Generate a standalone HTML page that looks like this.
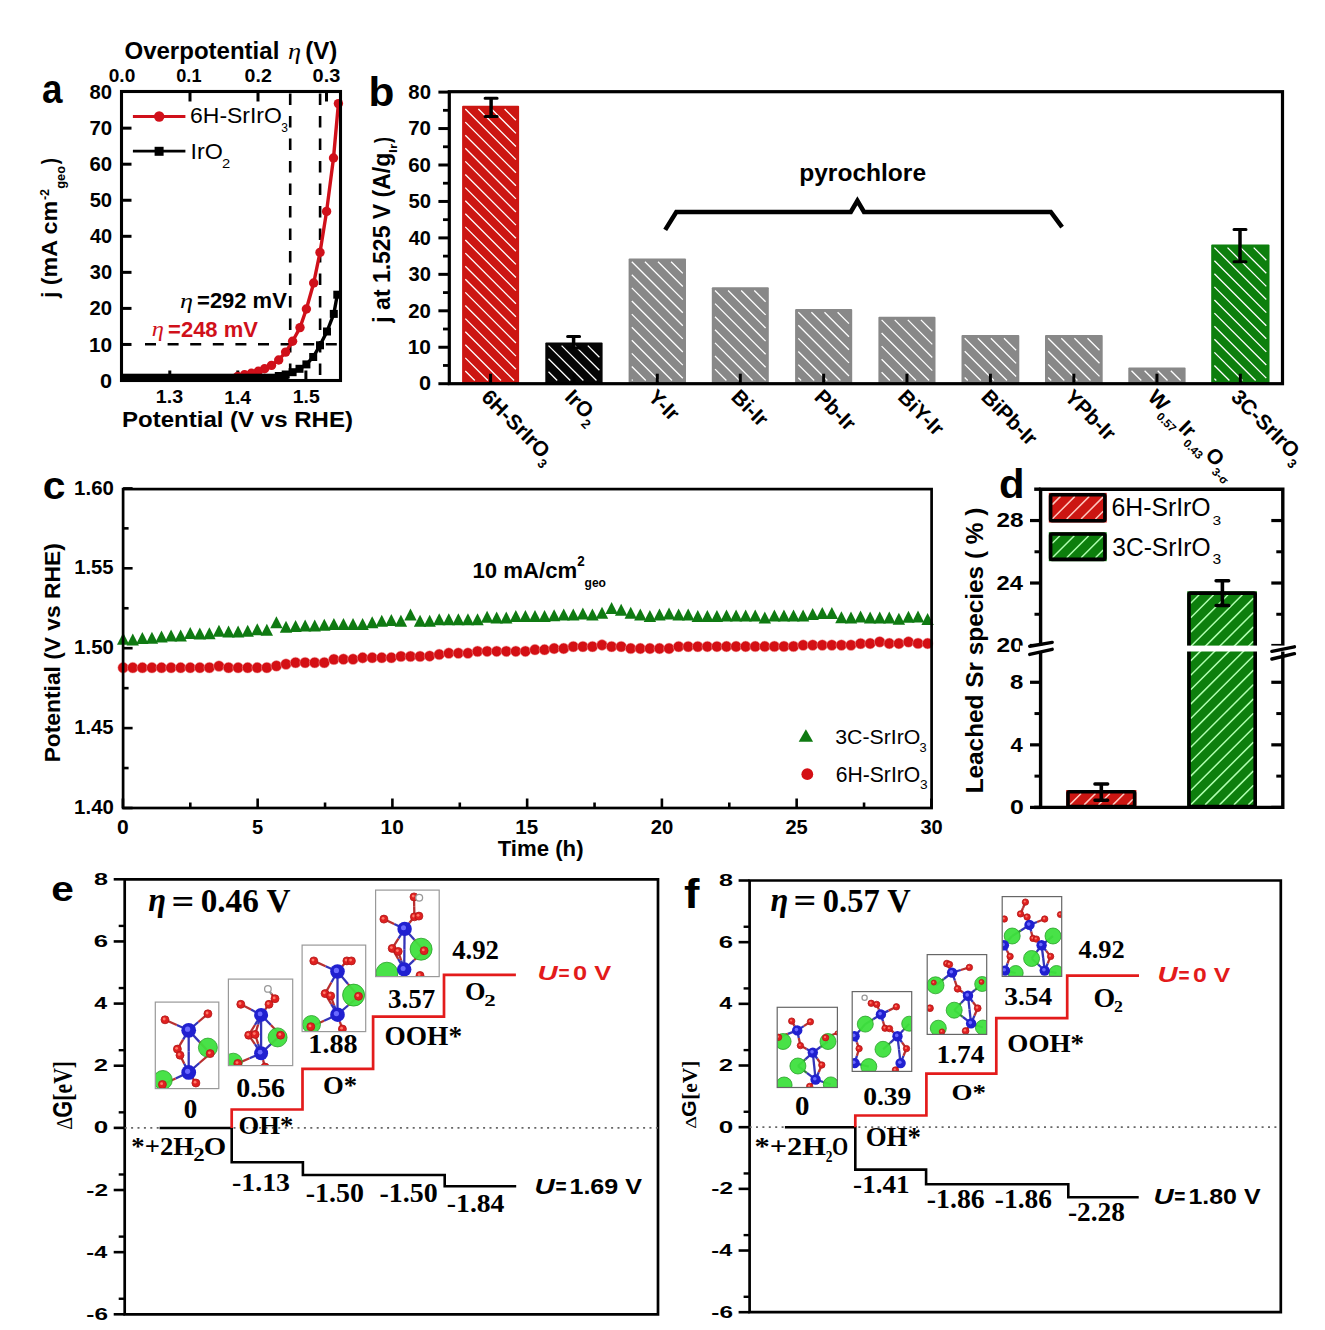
<!DOCTYPE html>
<html><head><meta charset="utf-8"><style>
html,body{margin:0;padding:0;background:#fff;}
svg{display:block;}
</style></head><body>
<svg width="1325" height="1330" viewBox="0 0 1325 1330">
<rect width="1325" height="1330" fill="#fff"/>
<text transform="translate(42.10,102.70) scale(0.9244,1)" font-family='"Liberation Sans", sans-serif' font-size="39.82" font-weight="bold" font-style="normal" fill="#000">a</text>
<text transform="translate(124.44,58.99) scale(1.0379,1)" font-family='"Liberation Sans", sans-serif' font-size="23.16" font-weight="bold" font-style="normal" fill="#000">Overpotential</text>
<text transform="translate(288.07,58.84) scale(1.1789,1)" font-family='"Liberation Serif", serif' font-size="22.42" font-weight="normal" font-style="italic" fill="#000">η</text>
<text transform="translate(305.19,59.22) scale(1.0487,1)" font-family='"Liberation Sans", sans-serif' font-size="23.06" font-weight="bold" font-style="normal" fill="#000">(V)</text>
<text transform="translate(108.74,81.71) scale(1.0001,1)" font-family='"Liberation Sans", sans-serif' font-size="19.08" font-weight="bold" font-style="normal" fill="#000">0.0</text>
<text transform="translate(176.27,81.71) scale(0.9511,1)" font-family='"Liberation Sans", sans-serif' font-size="19.08" font-weight="bold" font-style="normal" fill="#000">0.1</text>
<text transform="translate(244.62,81.71) scale(1.0262,1)" font-family='"Liberation Sans", sans-serif' font-size="19.08" font-weight="bold" font-style="normal" fill="#000">0.2</text>
<text transform="translate(312.60,81.66) scale(1.0479,1)" font-family='"Liberation Sans", sans-serif' font-size="19.01" font-weight="bold" font-style="normal" fill="#000">0.3</text>
<line x1="190.00" y1="91.50" x2="190.00" y2="101.50" stroke="#000" stroke-width="3" />
<line x1="258.00" y1="91.50" x2="258.00" y2="101.50" stroke="#000" stroke-width="3" />
<line x1="326.50" y1="91.50" x2="326.50" y2="101.50" stroke="#000" stroke-width="3" />
<text transform="translate(100.08,387.55) scale(1.0580,1)" font-family='"Liberation Sans", sans-serif' font-size="20.49" font-weight="bold" font-style="normal" fill="#000">0</text>
<text transform="translate(88.95,351.50) scale(1.0170,1)" font-family='"Liberation Sans", sans-serif' font-size="20.49" font-weight="bold" font-style="normal" fill="#000">10</text>
<line x1="121.50" y1="344.45" x2="131.50" y2="344.45" stroke="#000" stroke-width="3" />
<text transform="translate(89.54,315.45) scale(0.9900,1)" font-family='"Liberation Sans", sans-serif' font-size="20.49" font-weight="bold" font-style="normal" fill="#000">20</text>
<line x1="121.50" y1="308.40" x2="131.50" y2="308.40" stroke="#000" stroke-width="3" />
<text transform="translate(89.80,279.34) scale(0.9816,1)" font-family='"Liberation Sans", sans-serif' font-size="20.42" font-weight="bold" font-style="normal" fill="#000">30</text>
<line x1="121.50" y1="272.35" x2="131.50" y2="272.35" stroke="#000" stroke-width="3" />
<text transform="translate(89.95,243.35) scale(0.9712,1)" font-family='"Liberation Sans", sans-serif' font-size="20.49" font-weight="bold" font-style="normal" fill="#000">40</text>
<line x1="121.50" y1="236.30" x2="131.50" y2="236.30" stroke="#000" stroke-width="3" />
<text transform="translate(89.64,207.30) scale(0.9852,1)" font-family='"Liberation Sans", sans-serif' font-size="20.49" font-weight="bold" font-style="normal" fill="#000">50</text>
<line x1="121.50" y1="200.25" x2="131.50" y2="200.25" stroke="#000" stroke-width="3" />
<text transform="translate(89.49,171.25) scale(0.9924,1)" font-family='"Liberation Sans", sans-serif' font-size="20.49" font-weight="bold" font-style="normal" fill="#000">60</text>
<line x1="121.50" y1="164.20" x2="131.50" y2="164.20" stroke="#000" stroke-width="3" />
<text transform="translate(89.38,135.20) scale(0.9972,1)" font-family='"Liberation Sans", sans-serif' font-size="20.49" font-weight="bold" font-style="normal" fill="#000">70</text>
<line x1="121.50" y1="128.15" x2="131.50" y2="128.15" stroke="#000" stroke-width="3" />
<text transform="translate(89.59,99.15) scale(0.9876,1)" font-family='"Liberation Sans", sans-serif' font-size="20.49" font-weight="bold" font-style="normal" fill="#000">80</text>
<text transform="translate(155.87,403.37) scale(1.0570,1)" font-family='"Liberation Sans", sans-serif' font-size="18.59" font-weight="bold" font-style="normal" fill="#000">1.3</text>
<text transform="translate(224.29,403.60) scale(1.0043,1)" font-family='"Liberation Sans", sans-serif' font-size="19.20" font-weight="bold" font-style="normal" fill="#000">1.4</text>
<text transform="translate(292.68,403.41) scale(1.0284,1)" font-family='"Liberation Sans", sans-serif' font-size="18.92" font-weight="bold" font-style="normal" fill="#000">1.5</text>
<line x1="169.80" y1="380.50" x2="169.80" y2="370.50" stroke="#000" stroke-width="3" />
<line x1="237.80" y1="380.50" x2="237.80" y2="370.50" stroke="#000" stroke-width="3" />
<line x1="305.90" y1="380.50" x2="305.90" y2="370.50" stroke="#000" stroke-width="3" />
<text transform="translate(121.98,426.89) scale(1.0827,1)" font-family='"Liberation Sans", sans-serif' font-size="22.20" font-weight="bold" font-style="normal" fill="#000">Potential (V vs RHE)</text>
<text transform="translate(57.04,298.05) rotate(-90) scale(1.0115,1)" font-family='"Liberation Sans", sans-serif' font-size="22.95" font-weight="bold" font-style="normal" fill="#000">j (mA cm</text>
<text transform="translate(49.40,200.10) rotate(-90) scale(0.9444,1)" font-family='"Liberation Sans", sans-serif' font-size="13.33" font-weight="bold" font-style="normal" fill="#000">-2</text>
<text transform="translate(64.91,188.71) rotate(-90) scale(0.9386,1)" font-family='"Liberation Sans", sans-serif' font-size="13.60" font-weight="bold" font-style="normal" fill="#000">geo</text>
<text transform="translate(57.04,164.15) rotate(-90) scale(0.7937,1)" font-family='"Liberation Sans", sans-serif' font-size="22.95" font-weight="bold" font-style="normal" fill="#000">)</text>
<line x1="290.20" y1="93.50" x2="290.20" y2="380.50" stroke="#000" stroke-width="2.6" stroke-dasharray="11.5,11"/>
<line x1="320.10" y1="93.50" x2="320.10" y2="380.50" stroke="#000" stroke-width="2.6" stroke-dasharray="11.5,11"/>
<line x1="145.00" y1="344.20" x2="340.50" y2="344.20" stroke="#000" stroke-width="2.6" stroke-dasharray="11,11.6"/>
<path d="M338.4,103.6 L333.5,158 L326.6,211.4 L320,252.4 L313.7,283 L306.4,309 L300,327.6 L292.6,341.3 L285.6,352.1 L278.7,360 L271.5,365.4 L264.6,368.8 L258.3,371.3 L251.4,373.2 L244.5,374.8 L237.6,376.5 L225,378.5 L121.5,379" stroke="#d0101a" stroke-width="3.4" fill="none" stroke-linejoin="round"/>
<circle cx="338.4" cy="103.6" r="4.7" fill="#d0101a"/>
<circle cx="333.5" cy="158" r="4.7" fill="#d0101a"/>
<circle cx="326.6" cy="211.4" r="4.7" fill="#d0101a"/>
<circle cx="320" cy="252.4" r="4.7" fill="#d0101a"/>
<circle cx="313.7" cy="283" r="4.7" fill="#d0101a"/>
<circle cx="306.4" cy="309" r="4.7" fill="#d0101a"/>
<circle cx="300" cy="327.6" r="4.7" fill="#d0101a"/>
<circle cx="292.6" cy="341.3" r="4.7" fill="#d0101a"/>
<circle cx="285.6" cy="352.1" r="4.7" fill="#d0101a"/>
<circle cx="278.7" cy="360" r="4.7" fill="#d0101a"/>
<circle cx="271.5" cy="365.4" r="4.7" fill="#d0101a"/>
<circle cx="264.6" cy="368.8" r="4.7" fill="#d0101a"/>
<circle cx="258.3" cy="371.3" r="4.7" fill="#d0101a"/>
<circle cx="251.4" cy="373.2" r="4.7" fill="#d0101a"/>
<circle cx="244.5" cy="374.8" r="4.7" fill="#d0101a"/>
<circle cx="237.6" cy="376.5" r="4.7" fill="#d0101a"/>
<path d="M337.3,294.7 L333.8,313.9 L327,331.5 L320,345.3 L313.2,357 L306.4,364.4 L299.5,368.8 L292.6,372.2 L285.7,374.5 L278.8,376 L121.5,377.5" stroke="#000" stroke-width="3.4" fill="none" stroke-linejoin="round"/>
<rect x="333.3" y="290.7" width="8" height="8" fill="#000"/>
<rect x="329.8" y="309.9" width="8" height="8" fill="#000"/>
<rect x="323" y="327.5" width="8" height="8" fill="#000"/>
<rect x="316" y="341.3" width="8" height="8" fill="#000"/>
<rect x="309.2" y="353" width="8" height="8" fill="#000"/>
<rect x="302.4" y="360.4" width="8" height="8" fill="#000"/>
<rect x="295.5" y="364.8" width="8" height="8" fill="#000"/>
<rect x="288.6" y="368.2" width="8" height="8" fill="#000"/>
<rect x="281.7" y="370.5" width="8" height="8" fill="#000"/>
<rect x="274.8" y="372" width="8" height="8" fill="#000"/>
<rect x="121.5" y="373.7" width="167.2" height="7.5" fill="#000"/>
<rect x="121.5" y="91.5" width="219.0" height="289.0" fill="none" stroke="#000" stroke-width="3.1"/>
<line x1="132.90" y1="116.50" x2="185.40" y2="116.50" stroke="#d0101a" stroke-width="2.8" />
<circle cx="159.2" cy="116.5" r="5.2" fill="#d0101a"/>
<line x1="132.90" y1="151.20" x2="185.40" y2="151.20" stroke="#000" stroke-width="2.8" />
<rect x="154.6" y="146.8" width="9" height="9" fill="#000"/>
<text transform="translate(190.05,123.48) scale(1.0548,1)" font-family='"Liberation Sans", sans-serif' font-size="21.77" font-weight="normal" font-style="normal" fill="#000">6H-SrIrO</text>
<text transform="translate(281.35,132.27) scale(0.9433,1)" font-family='"Liberation Sans", sans-serif' font-size="12.72" font-weight="normal" font-style="normal" fill="#000">3</text>
<text transform="translate(190.45,158.78) scale(1.0476,1)" font-family='"Liberation Sans", sans-serif' font-size="22.19" font-weight="normal" font-style="normal" fill="#000">IrO</text>
<text transform="translate(222.06,167.50) scale(1.1287,1)" font-family='"Liberation Sans", sans-serif' font-size="13.05" font-weight="normal" font-style="normal" fill="#000">2</text>
<text transform="translate(180.08,307.87) scale(1.2860,1)" font-family='"Liberation Serif", serif' font-size="20.37" font-weight="normal" font-style="italic" fill="#000">η</text>
<text transform="translate(197.07,307.79) scale(1.0293,1)" font-family='"Liberation Sans", sans-serif' font-size="21.34" font-weight="bold" font-style="normal" fill="#000">=292 mV</text>
<text transform="translate(151.84,336.17) scale(1.2041,1)" font-family='"Liberation Serif", serif' font-size="20.37" font-weight="normal" font-style="italic" fill="#d0101a">η</text>
<text transform="translate(168.07,336.68) scale(0.9911,1)" font-family='"Liberation Sans", sans-serif' font-size="22.19" font-weight="bold" font-style="normal" fill="#d0101a">=248 mV</text>
<text transform="translate(368.45,106.40) scale(1.0522,1)" font-family='"Liberation Sans", sans-serif' font-size="40.27" font-weight="bold" font-style="normal" fill="#000">b</text>
<text transform="translate(418.93,390.40) scale(1.0804,1)" font-family='"Liberation Sans", sans-serif' font-size="20.07" font-weight="bold" font-style="normal" fill="#000">0</text>
<line x1="438.40" y1="383.70" x2="449.30" y2="383.70" stroke="#000" stroke-width="3" />
<text transform="translate(407.69,353.95) scale(1.0435,1)" font-family='"Liberation Sans", sans-serif' font-size="20.07" font-weight="bold" font-style="normal" fill="#000">10</text>
<line x1="438.40" y1="347.25" x2="449.30" y2="347.25" stroke="#000" stroke-width="3" />
<text transform="translate(408.29,317.50) scale(1.0157,1)" font-family='"Liberation Sans", sans-serif' font-size="20.07" font-weight="bold" font-style="normal" fill="#000">20</text>
<line x1="438.40" y1="310.80" x2="449.30" y2="310.80" stroke="#000" stroke-width="3" />
<text transform="translate(408.55,281.00) scale(1.0072,1)" font-family='"Liberation Sans", sans-serif' font-size="20.00" font-weight="bold" font-style="normal" fill="#000">30</text>
<line x1="438.40" y1="274.35" x2="449.30" y2="274.35" stroke="#000" stroke-width="3" />
<text transform="translate(408.70,244.60) scale(0.9965,1)" font-family='"Liberation Sans", sans-serif' font-size="20.07" font-weight="bold" font-style="normal" fill="#000">40</text>
<line x1="438.40" y1="237.90" x2="449.30" y2="237.90" stroke="#000" stroke-width="3" />
<text transform="translate(408.39,208.15) scale(1.0109,1)" font-family='"Liberation Sans", sans-serif' font-size="20.07" font-weight="bold" font-style="normal" fill="#000">50</text>
<line x1="438.40" y1="201.45" x2="449.30" y2="201.45" stroke="#000" stroke-width="3" />
<text transform="translate(408.23,171.70) scale(1.0182,1)" font-family='"Liberation Sans", sans-serif' font-size="20.07" font-weight="bold" font-style="normal" fill="#000">60</text>
<line x1="438.40" y1="165.00" x2="449.30" y2="165.00" stroke="#000" stroke-width="3" />
<text transform="translate(408.13,135.25) scale(1.0231,1)" font-family='"Liberation Sans", sans-serif' font-size="20.07" font-weight="bold" font-style="normal" fill="#000">70</text>
<line x1="438.40" y1="128.55" x2="449.30" y2="128.55" stroke="#000" stroke-width="3" />
<text transform="translate(408.34,98.80) scale(1.0133,1)" font-family='"Liberation Sans", sans-serif' font-size="20.07" font-weight="bold" font-style="normal" fill="#000">80</text>
<line x1="438.40" y1="92.10" x2="449.30" y2="92.10" stroke="#000" stroke-width="3" />
<line x1="443.00" y1="365.47" x2="449.30" y2="365.47" stroke="#000" stroke-width="2.8" />
<line x1="443.00" y1="329.02" x2="449.30" y2="329.02" stroke="#000" stroke-width="2.8" />
<line x1="443.00" y1="292.57" x2="449.30" y2="292.57" stroke="#000" stroke-width="2.8" />
<line x1="443.00" y1="256.12" x2="449.30" y2="256.12" stroke="#000" stroke-width="2.8" />
<line x1="443.00" y1="219.67" x2="449.30" y2="219.67" stroke="#000" stroke-width="2.8" />
<line x1="443.00" y1="183.22" x2="449.30" y2="183.22" stroke="#000" stroke-width="2.8" />
<line x1="443.00" y1="146.77" x2="449.30" y2="146.77" stroke="#000" stroke-width="2.8" />
<line x1="443.00" y1="110.32" x2="449.30" y2="110.32" stroke="#000" stroke-width="2.8" />
<text transform="translate(390.10,322.66) rotate(-90) scale(0.9981,1)" font-family='"Liberation Sans", sans-serif' font-size="23.04" font-weight="bold" font-style="normal" fill="#000">j at 1.525 V (A/g</text>
<text transform="translate(397.40,152.92) rotate(-90) scale(1.2705,1)" font-family='"Liberation Sans", sans-serif' font-size="10.76" font-weight="bold" font-style="normal" fill="#000">Ir</text>
<text transform="translate(390.04,143.04) rotate(-90) scale(0.7781,1)" font-family='"Liberation Sans", sans-serif' font-size="22.95" font-weight="bold" font-style="normal" fill="#000">)</text>
<rect x="462.10" y="105.80" width="57.00" height="277.90" fill="#cc1612" rx="1"/>
<path d="M465.30,371.00L474.80,380.50 M465.30,357.90L487.90,380.50 M465.30,344.80L501.00,380.50 M465.30,331.70L514.10,380.50 M465.30,318.60L515.90,369.20 M465.30,305.50L515.90,356.10 M465.30,292.40L515.90,343.00 M465.30,279.30L515.90,329.90 M465.30,266.20L515.90,316.80 M465.30,253.10L515.90,303.70 M465.30,240.00L515.90,290.60 M465.30,226.90L515.90,277.50 M465.30,213.80L515.90,264.40 M465.30,200.70L515.90,251.30 M465.30,187.60L515.90,238.20 M465.30,174.50L515.90,225.10 M465.30,161.40L515.90,212.00 M465.30,148.30L515.90,198.90 M465.30,135.20L515.90,185.80 M465.30,122.10L515.90,172.70 M465.30,109.00L515.90,159.60 M478.40,109.00L515.90,146.50 M491.50,109.00L515.90,133.40 M504.60,109.00L515.90,120.30" stroke="#fff" stroke-width="1.3" fill="none"/>
<rect x="545.30" y="342.40" width="57.30" height="41.30" fill="#050505" rx="1"/>
<path d="M548.50,371.80L557.20,380.50 M548.50,358.70L570.30,380.50 M548.50,345.60L583.40,380.50 M561.60,345.60L596.50,380.50 M574.70,345.60L599.40,370.30 M587.80,345.60L599.40,357.20" stroke="#fff" stroke-width="1.3" fill="none"/>
<rect x="628.60" y="258.50" width="57.40" height="125.20" fill="#888888" rx="1"/>
<path d="M631.80,379.60L632.70,380.50 M631.80,366.50L645.80,380.50 M631.80,353.40L658.90,380.50 M631.80,340.30L672.00,380.50 M631.80,327.20L682.80,378.20 M631.80,314.10L682.80,365.10 M631.80,301.00L682.80,352.00 M631.80,287.90L682.80,338.90 M631.80,274.80L682.80,325.80 M631.80,261.70L682.80,312.70 M644.90,261.70L682.80,299.60 M658.00,261.70L682.80,286.50 M671.10,261.70L682.80,273.40" stroke="#fff" stroke-width="1.3" fill="none"/>
<rect x="711.80" y="287.30" width="57.00" height="96.40" fill="#888888" rx="1"/>
<path d="M715.00,369.10L726.40,380.50 M715.00,356.00L739.50,380.50 M715.00,342.90L752.60,380.50 M715.00,329.80L765.60,380.40 M715.00,316.70L765.60,367.30 M715.00,303.60L765.60,354.20 M715.00,290.50L765.60,341.10 M728.10,290.50L765.60,328.00 M741.20,290.50L765.60,314.90 M754.30,290.50L765.60,301.80" stroke="#fff" stroke-width="1.3" fill="none"/>
<rect x="795.10" y="309.00" width="57.10" height="74.70" fill="#888888" rx="1"/>
<path d="M798.30,377.70L801.10,380.50 M798.30,364.60L814.20,380.50 M798.30,351.50L827.30,380.50 M798.30,338.40L840.40,380.50 M798.30,325.30L849.00,376.00 M798.30,312.20L849.00,362.90 M811.40,312.20L849.00,349.80 M824.50,312.20L849.00,336.70 M837.60,312.20L849.00,323.60" stroke="#fff" stroke-width="1.3" fill="none"/>
<rect x="878.40" y="316.70" width="57.10" height="67.00" fill="#888888" rx="1"/>
<path d="M881.60,372.30L889.80,380.50 M881.60,359.20L902.90,380.50 M881.60,346.10L916.00,380.50 M881.60,333.00L929.10,380.50 M881.60,319.90L932.30,370.60 M894.70,319.90L932.30,357.50 M907.80,319.90L932.30,344.40 M920.90,319.90L932.30,331.30" stroke="#fff" stroke-width="1.3" fill="none"/>
<rect x="961.50" y="335.00" width="57.80" height="48.70" fill="#888888" rx="1"/>
<path d="M964.70,377.50L967.70,380.50 M964.70,364.40L980.80,380.50 M964.70,351.30L993.90,380.50 M964.70,338.20L1007.00,380.50 M977.80,338.20L1016.10,376.50 M990.90,338.20L1016.10,363.40 M1004.00,338.20L1016.10,350.30" stroke="#fff" stroke-width="1.3" fill="none"/>
<rect x="1045.00" y="335.00" width="57.70" height="48.70" fill="#888888" rx="1"/>
<path d="M1048.20,377.50L1051.20,380.50 M1048.20,364.40L1064.30,380.50 M1048.20,351.30L1077.40,380.50 M1048.20,338.20L1090.50,380.50 M1061.30,338.20L1099.50,376.40 M1074.40,338.20L1099.50,363.30 M1087.50,338.20L1099.50,350.20" stroke="#fff" stroke-width="1.3" fill="none"/>
<rect x="1128.30" y="367.50" width="57.30" height="16.20" fill="#888888" rx="1"/>
<path d="M1131.50,370.70L1141.30,380.50 M1144.60,370.70L1154.40,380.50 M1157.70,370.70L1167.50,380.50 M1170.80,370.70L1180.60,380.50" stroke="#fff" stroke-width="1.3" fill="none"/>
<rect x="1211.20" y="244.40" width="58.30" height="139.30" fill="#0d7f0d" rx="1"/>
<path d="M1214.40,378.60L1216.30,380.50 M1214.40,365.50L1229.40,380.50 M1214.40,352.40L1242.50,380.50 M1214.40,339.30L1255.60,380.50 M1214.40,326.20L1266.30,378.10 M1214.40,313.10L1266.30,365.00 M1214.40,300.00L1266.30,351.90 M1214.40,286.90L1266.30,338.80 M1214.40,273.80L1266.30,325.70 M1214.40,260.70L1266.30,312.60 M1214.40,247.60L1266.30,299.50 M1227.50,247.60L1266.30,286.40 M1240.60,247.60L1266.30,273.30 M1253.70,247.60L1266.30,260.20" stroke="#fff" stroke-width="1.3" fill="none"/>
<line x1="490.60" y1="383.70" x2="490.60" y2="373.70" stroke="#000" stroke-width="3" />
<line x1="573.95" y1="383.70" x2="573.95" y2="373.70" stroke="#000" stroke-width="3" />
<line x1="657.30" y1="383.70" x2="657.30" y2="373.70" stroke="#000" stroke-width="3" />
<line x1="740.30" y1="383.70" x2="740.30" y2="373.70" stroke="#000" stroke-width="3" />
<line x1="823.65" y1="383.70" x2="823.65" y2="373.70" stroke="#000" stroke-width="3" />
<line x1="906.95" y1="383.70" x2="906.95" y2="373.70" stroke="#000" stroke-width="3" />
<line x1="990.40" y1="383.70" x2="990.40" y2="373.70" stroke="#000" stroke-width="3" />
<line x1="1073.85" y1="383.70" x2="1073.85" y2="373.70" stroke="#000" stroke-width="3" />
<line x1="1156.95" y1="383.70" x2="1156.95" y2="373.70" stroke="#000" stroke-width="3" />
<line x1="1240.35" y1="383.70" x2="1240.35" y2="373.70" stroke="#000" stroke-width="3" />
<path d="M491.1,98.2 L491.1,116.4" stroke="#000" stroke-width="3.5"/>
<path d="M485.1,98.2 L497.1,98.2 M485.1,116.4 L497.1,116.4" stroke="#000" stroke-width="3" stroke-linecap="round"/>
<path d="M573.6,336.4 L573.6,348" stroke="#000" stroke-width="3.5"/>
<path d="M567.6,336.4 L579.6,336.4 M567.6,348 L579.6,348" stroke="#000" stroke-width="3" stroke-linecap="round"/>
<path d="M1240,229.5 L1240,261.8" stroke="#000" stroke-width="3.5"/>
<path d="M1234.0,229.5 L1246.0,229.5 M1234.0,261.8 L1246.0,261.8" stroke="#000" stroke-width="3" stroke-linecap="round"/>
<rect x="449.3" y="91.7" width="833.2" height="292.0" fill="none" stroke="#000" stroke-width="3.2"/>
<path d="M665.2,229.9 L676.3,212.0 L850.8,212.0 L857.4,200.8 L864,212.0 L1050.8,212.0 L1062.1,227.1" stroke="#000" stroke-width="4.5" fill="none" stroke-linejoin="miter"/>
<text transform="translate(799.20,181.32) scale(1.0651,1)" font-family='"Liberation Sans", sans-serif' font-size="23.06" font-weight="bold" font-style="normal" fill="#000">pyrochlore</text>
<text transform="translate(480.30,398.20) rotate(45)" font-family='"Liberation Sans", sans-serif' font-size="21" font-weight="bold">6H-SrIrO<tspan dy="7" font-size="13" font-weight="bold">3</tspan></text>
<text transform="translate(563.65,398.20) rotate(45)" font-family='"Liberation Sans", sans-serif' font-size="21" font-weight="bold">IrO<tspan dy="7" font-size="13" font-weight="bold">2</tspan></text>
<text transform="translate(647.00,398.20) rotate(45)" font-family='"Liberation Sans", sans-serif' font-size="21" font-weight="bold">Y-Ir</text>
<text transform="translate(730.00,398.20) rotate(45)" font-family='"Liberation Sans", sans-serif' font-size="21" font-weight="bold">Bi-Ir</text>
<text transform="translate(813.35,398.20) rotate(45)" font-family='"Liberation Sans", sans-serif' font-size="21" font-weight="bold">Pb-Ir</text>
<text transform="translate(896.65,398.20) rotate(45)" font-family='"Liberation Sans", sans-serif' font-size="21" font-weight="bold">BiY-Ir</text>
<text transform="translate(980.10,398.20) rotate(45)" font-family='"Liberation Sans", sans-serif' font-size="21" font-weight="bold">BiPb-Ir</text>
<text transform="translate(1063.55,398.20) rotate(45)" font-family='"Liberation Sans", sans-serif' font-size="21" font-weight="bold">YPb-Ir</text>
<text transform="translate(1146.65,398.20) rotate(45)" font-family='"Liberation Sans", sans-serif' font-size="21" font-weight="bold">W<tspan dy="7" font-size="11.5" font-weight="bold">0.57</tspan><tspan dy="-7" dx="1.5">Ir</tspan><tspan dy="7" font-size="11.5" font-weight="bold">0.43</tspan><tspan dy="-7" dx="1.5">O</tspan><tspan dy="7" font-size="11.5" font-weight="bold">3-σ</tspan></text>
<text transform="translate(1230.05,398.20) rotate(45)" font-family='"Liberation Sans", sans-serif' font-size="21" font-weight="bold">3C-SrIrO<tspan dy="7" font-size="13" font-weight="bold">3</tspan></text>
<text transform="translate(42.87,499.11) scale(1.0347,1)" font-family='"Liberation Sans", sans-serif' font-size="39.45" font-weight="bold" font-style="normal" fill="#000">c</text>
<text transform="translate(74.12,814.10) scale(0.9957,1)" font-family='"Liberation Sans", sans-serif' font-size="20.49" font-weight="bold" font-style="normal" fill="#000">1.40</text>
<line x1="123.10" y1="808.00" x2="132.60" y2="808.00" stroke="#000" stroke-width="2.6" />
<line x1="123.10" y1="768.05" x2="128.60" y2="768.05" stroke="#000" stroke-width="2.6" />
<text transform="translate(74.13,734.19) scale(0.9750,1)" font-family='"Liberation Sans", sans-serif' font-size="20.79" font-weight="bold" font-style="normal" fill="#000">1.45</text>
<line x1="123.10" y1="728.10" x2="132.60" y2="728.10" stroke="#000" stroke-width="2.6" />
<line x1="123.10" y1="688.15" x2="128.60" y2="688.15" stroke="#000" stroke-width="2.6" />
<text transform="translate(74.12,654.30) scale(0.9957,1)" font-family='"Liberation Sans", sans-serif' font-size="20.49" font-weight="bold" font-style="normal" fill="#000">1.50</text>
<line x1="123.10" y1="648.20" x2="132.60" y2="648.20" stroke="#000" stroke-width="2.6" />
<line x1="123.10" y1="608.25" x2="128.60" y2="608.25" stroke="#000" stroke-width="2.6" />
<text transform="translate(74.13,574.39) scale(0.9750,1)" font-family='"Liberation Sans", sans-serif' font-size="20.79" font-weight="bold" font-style="normal" fill="#000">1.55</text>
<line x1="123.10" y1="568.30" x2="132.60" y2="568.30" stroke="#000" stroke-width="2.6" />
<line x1="123.10" y1="528.35" x2="128.60" y2="528.35" stroke="#000" stroke-width="2.6" />
<text transform="translate(74.12,494.50) scale(0.9957,1)" font-family='"Liberation Sans", sans-serif' font-size="20.49" font-weight="bold" font-style="normal" fill="#000">1.60</text>
<line x1="123.10" y1="488.40" x2="132.60" y2="488.40" stroke="#000" stroke-width="2.6" />
<text transform="translate(117.06,833.60) scale(1.0639,1)" font-family='"Liberation Sans", sans-serif' font-size="19.79" font-weight="bold" font-style="normal" fill="#000">0</text>
<line x1="122.90" y1="808.00" x2="122.90" y2="798.50" stroke="#000" stroke-width="2.6" />
<line x1="190.30" y1="808.00" x2="190.30" y2="802.50" stroke="#000" stroke-width="2.6" />
<text transform="translate(252.05,833.60) scale(1.0014,1)" font-family='"Liberation Sans", sans-serif' font-size="20.07" font-weight="bold" font-style="normal" fill="#000">5</text>
<line x1="257.65" y1="808.00" x2="257.65" y2="798.50" stroke="#000" stroke-width="2.6" />
<line x1="325.05" y1="808.00" x2="325.05" y2="802.50" stroke="#000" stroke-width="2.6" />
<text transform="translate(380.60,833.60) scale(1.0533,1)" font-family='"Liberation Sans", sans-serif' font-size="19.79" font-weight="bold" font-style="normal" fill="#000">10</text>
<line x1="392.40" y1="808.00" x2="392.40" y2="798.50" stroke="#000" stroke-width="2.6" />
<line x1="459.80" y1="808.00" x2="459.80" y2="802.50" stroke="#000" stroke-width="2.6" />
<text transform="translate(515.36,833.60) scale(1.0257,1)" font-family='"Liberation Sans", sans-serif' font-size="20.07" font-weight="bold" font-style="normal" fill="#000">15</text>
<line x1="527.15" y1="808.00" x2="527.15" y2="798.50" stroke="#000" stroke-width="2.6" />
<line x1="594.55" y1="808.00" x2="594.55" y2="802.50" stroke="#000" stroke-width="2.6" />
<text transform="translate(650.69,833.60) scale(1.0254,1)" font-family='"Liberation Sans", sans-serif' font-size="19.79" font-weight="bold" font-style="normal" fill="#000">20</text>
<line x1="661.90" y1="808.00" x2="661.90" y2="798.50" stroke="#000" stroke-width="2.6" />
<line x1="729.30" y1="808.00" x2="729.30" y2="802.50" stroke="#000" stroke-width="2.6" />
<text transform="translate(785.45,833.60) scale(1.0131,1)" font-family='"Liberation Sans", sans-serif' font-size="19.79" font-weight="bold" font-style="normal" fill="#000">25</text>
<line x1="796.65" y1="808.00" x2="796.65" y2="798.50" stroke="#000" stroke-width="2.6" />
<line x1="864.05" y1="808.00" x2="864.05" y2="802.50" stroke="#000" stroke-width="2.6" />
<text transform="translate(920.45,833.55) scale(1.0167,1)" font-family='"Liberation Sans", sans-serif' font-size="19.72" font-weight="bold" font-style="normal" fill="#000">30</text>
<line x1="931.40" y1="808.00" x2="931.40" y2="798.50" stroke="#000" stroke-width="2.6" />
<text transform="translate(497.68,856.08) scale(1.0200,1)" font-family='"Liberation Sans", sans-serif' font-size="21.77" font-weight="bold" font-style="normal" fill="#000">Time (h)</text>
<text transform="translate(59.70,762.34) rotate(-90) scale(1.0077,1)" font-family='"Liberation Sans", sans-serif' font-size="22.63" font-weight="bold" font-style="normal" fill="#000">Potential (V vs RHE)</text>
<text transform="translate(472.51,578.27) scale(1.0325,1)" font-family='"Liberation Sans", sans-serif' font-size="21.48" font-weight="bold" font-style="normal" fill="#000">10 mA/cm</text>
<text transform="translate(577.13,566.00) scale(0.9588,1)" font-family='"Liberation Sans", sans-serif' font-size="14.05" font-weight="bold" font-style="normal" fill="#000">2</text>
<text transform="translate(584.52,586.55) scale(0.9324,1)" font-family='"Liberation Sans", sans-serif' font-size="12.93" font-weight="bold" font-style="normal" fill="#000">geo</text>
<circle cx="123.20" cy="667.70" r="5.4" fill="#d40f14" stroke="#f0a8a8" stroke-width="0.5"/>
<circle cx="132.78" cy="667.70" r="5.4" fill="#d40f14" stroke="#f0a8a8" stroke-width="0.5"/>
<circle cx="142.35" cy="667.70" r="5.4" fill="#d40f14" stroke="#f0a8a8" stroke-width="0.5"/>
<circle cx="151.93" cy="667.70" r="5.4" fill="#d40f14" stroke="#f0a8a8" stroke-width="0.5"/>
<circle cx="161.50" cy="667.70" r="5.4" fill="#d40f14" stroke="#f0a8a8" stroke-width="0.5"/>
<circle cx="171.08" cy="667.70" r="5.4" fill="#d40f14" stroke="#f0a8a8" stroke-width="0.5"/>
<circle cx="180.66" cy="667.70" r="5.4" fill="#d40f14" stroke="#f0a8a8" stroke-width="0.5"/>
<circle cx="190.23" cy="667.70" r="5.4" fill="#d40f14" stroke="#f0a8a8" stroke-width="0.5"/>
<circle cx="199.81" cy="667.70" r="5.4" fill="#d40f14" stroke="#f0a8a8" stroke-width="0.5"/>
<circle cx="209.39" cy="667.65" r="5.4" fill="#d40f14" stroke="#f0a8a8" stroke-width="0.5"/>
<circle cx="218.96" cy="666.06" r="5.4" fill="#d40f14" stroke="#f0a8a8" stroke-width="0.5"/>
<circle cx="228.54" cy="667.69" r="5.4" fill="#d40f14" stroke="#f0a8a8" stroke-width="0.5"/>
<circle cx="238.11" cy="667.70" r="5.4" fill="#d40f14" stroke="#f0a8a8" stroke-width="0.5"/>
<circle cx="247.69" cy="667.70" r="5.4" fill="#d40f14" stroke="#f0a8a8" stroke-width="0.5"/>
<circle cx="257.27" cy="667.70" r="5.4" fill="#d40f14" stroke="#f0a8a8" stroke-width="0.5"/>
<circle cx="266.84" cy="667.66" r="5.4" fill="#d40f14" stroke="#f0a8a8" stroke-width="0.5"/>
<circle cx="276.42" cy="665.94" r="5.4" fill="#d40f14" stroke="#f0a8a8" stroke-width="0.5"/>
<circle cx="286.00" cy="664.13" r="5.4" fill="#d40f14" stroke="#f0a8a8" stroke-width="0.5"/>
<circle cx="295.57" cy="662.60" r="5.4" fill="#d40f14" stroke="#f0a8a8" stroke-width="0.5"/>
<circle cx="305.15" cy="662.60" r="5.4" fill="#d40f14" stroke="#f0a8a8" stroke-width="0.5"/>
<circle cx="314.72" cy="662.60" r="5.4" fill="#d40f14" stroke="#f0a8a8" stroke-width="0.5"/>
<circle cx="324.30" cy="662.60" r="5.4" fill="#d40f14" stroke="#f0a8a8" stroke-width="0.5"/>
<circle cx="333.88" cy="659.35" r="5.4" fill="#d40f14" stroke="#f0a8a8" stroke-width="0.5"/>
<circle cx="343.45" cy="659.20" r="5.4" fill="#d40f14" stroke="#f0a8a8" stroke-width="0.5"/>
<circle cx="353.03" cy="659.20" r="5.4" fill="#d40f14" stroke="#f0a8a8" stroke-width="0.5"/>
<circle cx="362.60" cy="657.73" r="5.4" fill="#d40f14" stroke="#f0a8a8" stroke-width="0.5"/>
<circle cx="372.18" cy="657.70" r="5.4" fill="#d40f14" stroke="#f0a8a8" stroke-width="0.5"/>
<circle cx="381.76" cy="657.70" r="5.4" fill="#d40f14" stroke="#f0a8a8" stroke-width="0.5"/>
<circle cx="391.33" cy="657.70" r="5.4" fill="#d40f14" stroke="#f0a8a8" stroke-width="0.5"/>
<circle cx="400.91" cy="656.40" r="5.4" fill="#d40f14" stroke="#f0a8a8" stroke-width="0.5"/>
<circle cx="410.49" cy="656.40" r="5.4" fill="#d40f14" stroke="#f0a8a8" stroke-width="0.5"/>
<circle cx="420.06" cy="656.39" r="5.4" fill="#d40f14" stroke="#f0a8a8" stroke-width="0.5"/>
<circle cx="429.64" cy="656.04" r="5.4" fill="#d40f14" stroke="#f0a8a8" stroke-width="0.5"/>
<circle cx="439.21" cy="654.46" r="5.4" fill="#d40f14" stroke="#f0a8a8" stroke-width="0.5"/>
<circle cx="448.79" cy="653.20" r="5.4" fill="#d40f14" stroke="#f0a8a8" stroke-width="0.5"/>
<circle cx="458.37" cy="653.20" r="5.4" fill="#d40f14" stroke="#f0a8a8" stroke-width="0.5"/>
<circle cx="467.94" cy="653.20" r="5.4" fill="#d40f14" stroke="#f0a8a8" stroke-width="0.5"/>
<circle cx="477.52" cy="651.34" r="5.4" fill="#d40f14" stroke="#f0a8a8" stroke-width="0.5"/>
<circle cx="487.10" cy="651.30" r="5.4" fill="#d40f14" stroke="#f0a8a8" stroke-width="0.5"/>
<circle cx="496.67" cy="651.30" r="5.4" fill="#d40f14" stroke="#f0a8a8" stroke-width="0.5"/>
<circle cx="506.25" cy="651.30" r="5.4" fill="#d40f14" stroke="#f0a8a8" stroke-width="0.5"/>
<circle cx="515.82" cy="651.30" r="5.4" fill="#d40f14" stroke="#f0a8a8" stroke-width="0.5"/>
<circle cx="525.40" cy="651.30" r="5.4" fill="#d40f14" stroke="#f0a8a8" stroke-width="0.5"/>
<circle cx="534.98" cy="649.72" r="5.4" fill="#d40f14" stroke="#f0a8a8" stroke-width="0.5"/>
<circle cx="544.55" cy="649.70" r="5.4" fill="#d40f14" stroke="#f0a8a8" stroke-width="0.5"/>
<circle cx="554.13" cy="648.50" r="5.4" fill="#d40f14" stroke="#f0a8a8" stroke-width="0.5"/>
<circle cx="563.70" cy="648.48" r="5.4" fill="#d40f14" stroke="#f0a8a8" stroke-width="0.5"/>
<circle cx="573.28" cy="646.60" r="5.4" fill="#d40f14" stroke="#f0a8a8" stroke-width="0.5"/>
<circle cx="582.86" cy="646.60" r="5.4" fill="#d40f14" stroke="#f0a8a8" stroke-width="0.5"/>
<circle cx="592.43" cy="646.60" r="5.4" fill="#d40f14" stroke="#f0a8a8" stroke-width="0.5"/>
<circle cx="602.01" cy="645.02" r="5.4" fill="#d40f14" stroke="#f0a8a8" stroke-width="0.5"/>
<circle cx="611.59" cy="646.60" r="5.4" fill="#d40f14" stroke="#f0a8a8" stroke-width="0.5"/>
<circle cx="621.16" cy="646.60" r="5.4" fill="#d40f14" stroke="#f0a8a8" stroke-width="0.5"/>
<circle cx="630.74" cy="648.47" r="5.4" fill="#d40f14" stroke="#f0a8a8" stroke-width="0.5"/>
<circle cx="640.31" cy="648.50" r="5.4" fill="#d40f14" stroke="#f0a8a8" stroke-width="0.5"/>
<circle cx="649.89" cy="648.50" r="5.4" fill="#d40f14" stroke="#f0a8a8" stroke-width="0.5"/>
<circle cx="659.47" cy="648.50" r="5.4" fill="#d40f14" stroke="#f0a8a8" stroke-width="0.5"/>
<circle cx="669.04" cy="648.49" r="5.4" fill="#d40f14" stroke="#f0a8a8" stroke-width="0.5"/>
<circle cx="678.62" cy="646.60" r="5.4" fill="#d40f14" stroke="#f0a8a8" stroke-width="0.5"/>
<circle cx="688.20" cy="646.58" r="5.4" fill="#d40f14" stroke="#f0a8a8" stroke-width="0.5"/>
<circle cx="697.77" cy="646.57" r="5.4" fill="#d40f14" stroke="#f0a8a8" stroke-width="0.5"/>
<circle cx="707.35" cy="646.55" r="5.4" fill="#d40f14" stroke="#f0a8a8" stroke-width="0.5"/>
<circle cx="716.92" cy="646.53" r="5.4" fill="#d40f14" stroke="#f0a8a8" stroke-width="0.5"/>
<circle cx="726.50" cy="646.52" r="5.4" fill="#d40f14" stroke="#f0a8a8" stroke-width="0.5"/>
<circle cx="736.08" cy="646.50" r="5.4" fill="#d40f14" stroke="#f0a8a8" stroke-width="0.5"/>
<circle cx="745.65" cy="646.48" r="5.4" fill="#d40f14" stroke="#f0a8a8" stroke-width="0.5"/>
<circle cx="755.23" cy="646.47" r="5.4" fill="#d40f14" stroke="#f0a8a8" stroke-width="0.5"/>
<circle cx="764.80" cy="646.45" r="5.4" fill="#d40f14" stroke="#f0a8a8" stroke-width="0.5"/>
<circle cx="774.38" cy="646.43" r="5.4" fill="#d40f14" stroke="#f0a8a8" stroke-width="0.5"/>
<circle cx="783.96" cy="646.42" r="5.4" fill="#d40f14" stroke="#f0a8a8" stroke-width="0.5"/>
<circle cx="793.53" cy="646.40" r="5.4" fill="#d40f14" stroke="#f0a8a8" stroke-width="0.5"/>
<circle cx="803.11" cy="645.20" r="5.4" fill="#d40f14" stroke="#f0a8a8" stroke-width="0.5"/>
<circle cx="812.69" cy="645.10" r="5.4" fill="#d40f14" stroke="#f0a8a8" stroke-width="0.5"/>
<circle cx="822.26" cy="645.10" r="5.4" fill="#d40f14" stroke="#f0a8a8" stroke-width="0.5"/>
<circle cx="831.84" cy="645.10" r="5.4" fill="#d40f14" stroke="#f0a8a8" stroke-width="0.5"/>
<circle cx="841.41" cy="645.10" r="5.4" fill="#d40f14" stroke="#f0a8a8" stroke-width="0.5"/>
<circle cx="850.99" cy="645.10" r="5.4" fill="#d40f14" stroke="#f0a8a8" stroke-width="0.5"/>
<circle cx="860.57" cy="643.60" r="5.4" fill="#d40f14" stroke="#f0a8a8" stroke-width="0.5"/>
<circle cx="870.14" cy="643.50" r="5.4" fill="#d40f14" stroke="#f0a8a8" stroke-width="0.5"/>
<circle cx="879.72" cy="641.90" r="5.4" fill="#d40f14" stroke="#f0a8a8" stroke-width="0.5"/>
<circle cx="889.30" cy="643.48" r="5.4" fill="#d40f14" stroke="#f0a8a8" stroke-width="0.5"/>
<circle cx="898.87" cy="643.50" r="5.4" fill="#d40f14" stroke="#f0a8a8" stroke-width="0.5"/>
<circle cx="908.45" cy="641.96" r="5.4" fill="#d40f14" stroke="#f0a8a8" stroke-width="0.5"/>
<circle cx="918.02" cy="643.41" r="5.4" fill="#d40f14" stroke="#f0a8a8" stroke-width="0.5"/>
<circle cx="927.60" cy="643.50" r="5.4" fill="#d40f14" stroke="#f0a8a8" stroke-width="0.5"/>
<path d="M117.00,644.70 L123.20,632.70 L129.40,644.70 Z" fill="#0f7a12"/>
<path d="M126.58,645.49 L132.78,633.49 L138.98,645.49 Z" fill="#0f7a12"/>
<path d="M136.15,643.90 L142.35,631.90 L148.55,643.90 Z" fill="#0f7a12"/>
<path d="M145.73,643.87 L151.93,631.87 L158.13,643.87 Z" fill="#0f7a12"/>
<path d="M155.30,642.60 L161.50,630.60 L167.70,642.60 Z" fill="#0f7a12"/>
<path d="M164.88,641.50 L171.08,629.50 L177.28,641.50 Z" fill="#0f7a12"/>
<path d="M174.46,641.46 L180.66,629.46 L186.86,641.46 Z" fill="#0f7a12"/>
<path d="M184.03,639.11 L190.23,627.11 L196.43,639.11 Z" fill="#0f7a12"/>
<path d="M193.61,639.40 L199.81,627.40 L206.01,639.40 Z" fill="#0f7a12"/>
<path d="M203.19,639.32 L209.39,627.32 L215.59,639.32 Z" fill="#0f7a12"/>
<path d="M212.76,636.83 L218.96,624.83 L225.16,636.83 Z" fill="#0f7a12"/>
<path d="M222.34,637.50 L228.54,625.50 L234.74,637.50 Z" fill="#0f7a12"/>
<path d="M231.91,637.50 L238.11,625.50 L244.31,637.50 Z" fill="#0f7a12"/>
<path d="M241.49,636.78 L247.69,624.78 L253.89,636.78 Z" fill="#0f7a12"/>
<path d="M251.07,635.21 L257.27,623.21 L263.47,635.21 Z" fill="#0f7a12"/>
<path d="M260.64,635.80 L266.84,623.80 L273.04,635.80 Z" fill="#0f7a12"/>
<path d="M270.22,628.16 L276.42,616.16 L282.62,628.16 Z" fill="#0f7a12"/>
<path d="M279.80,632.77 L286.00,620.77 L292.20,632.77 Z" fill="#0f7a12"/>
<path d="M289.37,631.98 L295.57,619.98 L301.77,631.98 Z" fill="#0f7a12"/>
<path d="M298.95,631.50 L305.15,619.50 L311.35,631.50 Z" fill="#0f7a12"/>
<path d="M308.52,631.45 L314.72,619.45 L320.92,631.45 Z" fill="#0f7a12"/>
<path d="M318.10,630.74 L324.30,618.74 L330.50,630.74 Z" fill="#0f7a12"/>
<path d="M327.68,629.94 L333.88,617.94 L340.08,629.94 Z" fill="#0f7a12"/>
<path d="M337.25,629.90 L343.45,617.90 L349.65,629.90 Z" fill="#0f7a12"/>
<path d="M346.83,629.90 L353.03,617.90 L359.23,629.90 Z" fill="#0f7a12"/>
<path d="M356.40,629.90 L362.60,617.90 L368.80,629.90 Z" fill="#0f7a12"/>
<path d="M365.98,628.32 L372.18,616.32 L378.38,628.32 Z" fill="#0f7a12"/>
<path d="M375.56,626.81 L381.76,614.81 L387.96,626.81 Z" fill="#0f7a12"/>
<path d="M385.13,626.00 L391.33,614.00 L397.53,626.00 Z" fill="#0f7a12"/>
<path d="M394.71,626.73 L400.91,614.73 L407.11,626.73 Z" fill="#0f7a12"/>
<path d="M404.29,620.53 L410.49,608.53 L416.69,620.53 Z" fill="#0f7a12"/>
<path d="M413.86,626.80 L420.06,614.80 L426.26,626.80 Z" fill="#0f7a12"/>
<path d="M423.44,626.74 L429.64,614.74 L435.84,626.74 Z" fill="#0f7a12"/>
<path d="M433.01,625.20 L439.21,613.20 L445.41,625.20 Z" fill="#0f7a12"/>
<path d="M442.59,625.20 L448.79,613.20 L454.99,625.20 Z" fill="#0f7a12"/>
<path d="M452.17,625.20 L458.37,613.20 L464.57,625.20 Z" fill="#0f7a12"/>
<path d="M461.74,625.20 L467.94,613.20 L474.14,625.20 Z" fill="#0f7a12"/>
<path d="M471.32,625.20 L477.52,613.20 L483.72,625.20 Z" fill="#0f7a12"/>
<path d="M480.90,622.83 L487.10,610.83 L493.30,622.83 Z" fill="#0f7a12"/>
<path d="M490.47,623.60 L496.67,611.60 L502.87,623.60 Z" fill="#0f7a12"/>
<path d="M500.05,623.59 L506.25,611.59 L512.45,623.59 Z" fill="#0f7a12"/>
<path d="M509.62,622.00 L515.82,610.00 L522.02,622.00 Z" fill="#0f7a12"/>
<path d="M519.20,622.00 L525.40,610.00 L531.60,622.00 Z" fill="#0f7a12"/>
<path d="M528.78,622.00 L534.98,610.00 L541.18,622.00 Z" fill="#0f7a12"/>
<path d="M538.35,622.00 L544.55,610.00 L550.75,622.00 Z" fill="#0f7a12"/>
<path d="M547.93,621.20 L554.13,609.20 L560.33,621.20 Z" fill="#0f7a12"/>
<path d="M557.50,620.40 L563.70,608.40 L569.90,620.40 Z" fill="#0f7a12"/>
<path d="M567.08,620.39 L573.28,608.39 L579.48,620.39 Z" fill="#0f7a12"/>
<path d="M576.66,619.62 L582.86,607.62 L589.06,619.62 Z" fill="#0f7a12"/>
<path d="M586.23,620.39 L592.43,608.39 L598.63,620.39 Z" fill="#0f7a12"/>
<path d="M595.81,618.82 L602.01,606.82 L608.21,618.82 Z" fill="#0f7a12"/>
<path d="M605.39,614.11 L611.59,602.11 L617.79,614.11 Z" fill="#0f7a12"/>
<path d="M614.96,615.66 L621.16,603.66 L627.36,615.66 Z" fill="#0f7a12"/>
<path d="M624.54,618.75 L630.74,606.75 L636.94,618.75 Z" fill="#0f7a12"/>
<path d="M634.11,620.39 L640.31,608.39 L646.51,620.39 Z" fill="#0f7a12"/>
<path d="M643.69,621.98 L649.89,609.98 L656.09,621.98 Z" fill="#0f7a12"/>
<path d="M653.27,620.41 L659.47,608.41 L665.67,620.41 Z" fill="#0f7a12"/>
<path d="M662.84,619.60 L669.04,607.60 L675.24,619.60 Z" fill="#0f7a12"/>
<path d="M672.42,620.40 L678.62,608.40 L684.82,620.40 Z" fill="#0f7a12"/>
<path d="M682.00,620.43 L688.20,608.43 L694.40,620.43 Z" fill="#0f7a12"/>
<path d="M691.57,622.00 L697.77,610.00 L703.97,622.00 Z" fill="#0f7a12"/>
<path d="M701.15,622.00 L707.35,610.00 L713.55,622.00 Z" fill="#0f7a12"/>
<path d="M710.72,621.98 L716.92,609.98 L723.12,621.98 Z" fill="#0f7a12"/>
<path d="M720.30,621.50 L726.50,609.50 L732.70,621.50 Z" fill="#0f7a12"/>
<path d="M729.88,621.50 L736.08,609.50 L742.28,621.50 Z" fill="#0f7a12"/>
<path d="M739.45,621.50 L745.65,609.50 L751.85,621.50 Z" fill="#0f7a12"/>
<path d="M749.03,621.50 L755.23,609.50 L761.43,621.50 Z" fill="#0f7a12"/>
<path d="M758.60,623.48 L764.80,611.48 L771.00,623.48 Z" fill="#0f7a12"/>
<path d="M768.18,621.58 L774.38,609.58 L780.58,621.58 Z" fill="#0f7a12"/>
<path d="M777.76,621.50 L783.96,609.50 L790.16,621.50 Z" fill="#0f7a12"/>
<path d="M787.33,621.50 L793.53,609.50 L799.73,621.50 Z" fill="#0f7a12"/>
<path d="M796.91,621.50 L803.11,609.50 L809.31,621.50 Z" fill="#0f7a12"/>
<path d="M806.49,619.96 L812.69,607.96 L818.89,619.96 Z" fill="#0f7a12"/>
<path d="M816.06,619.02 L822.26,607.02 L828.46,619.02 Z" fill="#0f7a12"/>
<path d="M825.64,619.00 L831.84,607.00 L838.04,619.00 Z" fill="#0f7a12"/>
<path d="M835.21,623.19 L841.41,611.19 L847.61,623.19 Z" fill="#0f7a12"/>
<path d="M844.79,623.50 L850.99,611.50 L857.19,623.50 Z" fill="#0f7a12"/>
<path d="M854.37,622.47 L860.57,610.47 L866.77,622.47 Z" fill="#0f7a12"/>
<path d="M863.94,623.48 L870.14,611.48 L876.34,623.48 Z" fill="#0f7a12"/>
<path d="M873.52,623.50 L879.72,611.50 L885.92,623.50 Z" fill="#0f7a12"/>
<path d="M883.10,623.50 L889.30,611.50 L895.50,623.50 Z" fill="#0f7a12"/>
<path d="M892.67,624.83 L898.87,612.83 L905.07,624.83 Z" fill="#0f7a12"/>
<path d="M902.25,622.64 L908.45,610.64 L914.65,622.64 Z" fill="#0f7a12"/>
<path d="M911.82,622.40 L918.02,610.40 L924.22,622.40 Z" fill="#0f7a12"/>
<path d="M921.40,624.90 L927.60,612.90 L933.80,624.90 Z" fill="#0f7a12"/>
<rect x="123.1" y="489.1" width="808.5" height="318.9" fill="none" stroke="#000" stroke-width="2.7"/>
<path d="M798.7,741.8 L805.9,729.3 L813.1,741.8 Z" fill="#0f7a12"/>
<circle cx="807.3" cy="774.2" r="5.9" fill="#d40f14"/>
<text transform="translate(835.20,743.70) scale(1.0830,1)" font-family='"Liberation Sans", sans-serif' font-size="19.65" font-weight="normal" font-style="normal" fill="#000">3C-SrIrO</text>
<text transform="translate(919.52,752.18) scale(1.0565,1)" font-family='"Liberation Sans", sans-serif' font-size="12.16" font-weight="normal" font-style="normal" fill="#000">3</text>
<text transform="translate(835.74,781.59) scale(0.9840,1)" font-family='"Liberation Sans", sans-serif' font-size="21.48" font-weight="normal" font-style="normal" fill="#000">6H-SrIrO</text>
<text transform="translate(919.99,789.48) scale(1.1258,1)" font-family='"Liberation Sans", sans-serif' font-size="12.16" font-weight="normal" font-style="normal" fill="#000">3</text>
<text transform="translate(998.93,498.09) scale(1.0271,1)" font-family='"Liberation Sans", sans-serif' font-size="40.68" font-weight="bold" font-style="normal" fill="#000">d</text>
<text transform="translate(1009.91,814.00) scale(1.2465,1)" font-family='"Liberation Sans", sans-serif' font-size="19.93" font-weight="bold" font-style="normal" fill="#000">0</text>
<text transform="translate(1010.57,751.64) scale(1.0754,1)" font-family='"Liberation Sans", sans-serif' font-size="20.51" font-weight="bold" font-style="normal" fill="#000">4</text>
<text transform="translate(1010.12,688.88) scale(1.2022,1)" font-family='"Liberation Sans", sans-serif' font-size="19.93" font-weight="bold" font-style="normal" fill="#000">8</text>
<text transform="translate(996.44,652.10) scale(1.2314,1)" font-family='"Liberation Sans", sans-serif' font-size="19.93" font-weight="bold" font-style="normal" fill="#000">20</text>
<text transform="translate(996.47,589.82) scale(1.1743,1)" font-family='"Liberation Sans", sans-serif' font-size="20.22" font-weight="bold" font-style="normal" fill="#000">24</text>
<text transform="translate(996.45,527.14) scale(1.2196,1)" font-family='"Liberation Sans", sans-serif' font-size="19.93" font-weight="bold" font-style="normal" fill="#000">28</text>
<text transform="translate(983.28,793.35) rotate(-90) scale(0.9886,1)" font-family='"Liberation Sans", sans-serif' font-size="24.66" font-weight="bold" font-style="normal" fill="#000">Leached Sr species ( % )</text>
<rect x="1066.20" y="790.00" width="70.20" height="18.40" fill="#cc1612"/>
<path d="M1081.10,793.50L1069.70,804.90 M1095.50,793.50L1084.10,804.90 M1109.90,793.50L1098.50,804.90 M1124.30,793.50L1112.90,804.90 M1132.90,799.30L1127.30,804.90" stroke="#ffc8c0" stroke-width="1.5" fill="none"/>
<rect x="1068.00" y="791.80" width="66.60" height="14.80" fill="none" stroke="#000" stroke-width="3.6" rx="1.5"/>
<rect x="1187.20" y="591.30" width="69.80" height="217.10" fill="#0d7f0d"/>
<path d="M1199.20,594.80L1190.70,603.30 M1213.60,594.80L1190.70,617.70 M1228.00,594.80L1190.70,632.10 M1242.40,594.80L1190.70,646.50 M1253.50,598.10L1190.70,660.90 M1253.50,612.50L1190.70,675.30 M1253.50,626.90L1190.70,689.70 M1253.50,641.30L1190.70,704.10 M1253.50,655.70L1190.70,718.50 M1253.50,670.10L1190.70,732.90 M1253.50,684.50L1190.70,747.30 M1253.50,698.90L1190.70,761.70 M1253.50,713.30L1190.70,776.10 M1253.50,727.70L1190.70,790.50 M1253.50,742.10L1190.70,804.90 M1253.50,756.50L1205.10,804.90 M1253.50,770.90L1219.50,804.90 M1253.50,785.30L1233.90,804.90 M1253.50,799.70L1248.30,804.90" stroke="#b0ffb0" stroke-width="1.5" fill="none"/>
<rect x="1189.00" y="593.10" width="66.20" height="213.50" fill="none" stroke="#000" stroke-width="3.6" rx="1.5"/>
<path d="M1101.3,784 L1101.3,800.2" stroke="#000" stroke-width="3.6"/>
<path d="M1094.8999999999999,784 L1107.7,784 M1094.8999999999999,800.2 L1107.7,800.2" stroke="#000" stroke-width="3.4" stroke-linecap="round"/>
<path d="M1222.4,580.7 L1222.4,605.5" stroke="#000" stroke-width="3.6"/>
<path d="M1216.0500000000002,580.7 L1228.75,580.7 M1216.0500000000002,605.5 L1228.75,605.5" stroke="#000" stroke-width="3.4" stroke-linecap="round"/>
<path d="M1040.6,807.4 L1040.6,489.2 L1282.8,489.2 L1282.8,807.4 L1039.1,807.4" fill="none" stroke="#000" stroke-width="3.4"/>
<line x1="1034.20" y1="489.20" x2="1040.60" y2="489.20" stroke="#000" stroke-width="3.4" />
<line x1="1034.20" y1="807.40" x2="1040.60" y2="807.40" stroke="#000" stroke-width="3.4" />
<line x1="1030.00" y1="807.40" x2="1040.60" y2="807.40" stroke="#000" stroke-width="3.2" />
<line x1="1271.30" y1="807.40" x2="1282.80" y2="807.40" stroke="#000" stroke-width="3.2" />
<line x1="1030.00" y1="744.84" x2="1040.60" y2="744.84" stroke="#000" stroke-width="3.2" />
<line x1="1271.30" y1="744.84" x2="1282.80" y2="744.84" stroke="#000" stroke-width="3.2" />
<line x1="1030.00" y1="682.28" x2="1040.60" y2="682.28" stroke="#000" stroke-width="3.2" />
<line x1="1271.30" y1="682.28" x2="1282.80" y2="682.28" stroke="#000" stroke-width="3.2" />
<line x1="1030.00" y1="645.50" x2="1040.60" y2="645.50" stroke="#000" stroke-width="3.2" />
<line x1="1271.30" y1="645.50" x2="1282.80" y2="645.50" stroke="#000" stroke-width="3.2" />
<line x1="1030.00" y1="583.02" x2="1040.60" y2="583.02" stroke="#000" stroke-width="3.2" />
<line x1="1271.30" y1="583.02" x2="1282.80" y2="583.02" stroke="#000" stroke-width="3.2" />
<line x1="1030.00" y1="520.54" x2="1040.60" y2="520.54" stroke="#000" stroke-width="3.2" />
<line x1="1271.30" y1="520.54" x2="1282.80" y2="520.54" stroke="#000" stroke-width="3.2" />
<line x1="1034.50" y1="776.12" x2="1040.60" y2="776.12" stroke="#000" stroke-width="3" />
<line x1="1276.30" y1="776.12" x2="1282.80" y2="776.12" stroke="#000" stroke-width="3" />
<line x1="1034.50" y1="713.56" x2="1040.60" y2="713.56" stroke="#000" stroke-width="3" />
<line x1="1276.30" y1="713.56" x2="1282.80" y2="713.56" stroke="#000" stroke-width="3" />
<line x1="1034.50" y1="614.26" x2="1040.60" y2="614.26" stroke="#000" stroke-width="3" />
<line x1="1276.30" y1="614.26" x2="1282.80" y2="614.26" stroke="#000" stroke-width="3" />
<line x1="1034.50" y1="551.78" x2="1040.60" y2="551.78" stroke="#000" stroke-width="3" />
<line x1="1276.30" y1="551.78" x2="1282.80" y2="551.78" stroke="#000" stroke-width="3" />
<rect x="1020" y="645.6" width="285" height="5.9" fill="#fff"/>
<path d="M1029.7,646.3 L1052.2,642.4 M1029.7,654.4 L1052.2,649.3" stroke="#000" stroke-width="3.4" stroke-linecap="round"/>
<path d="M1271.9,651.3 L1294.4,646.8 M1271.9,659.0 L1294.4,653.7" stroke="#000" stroke-width="3.4" stroke-linecap="round"/>
<rect x="1048.80" y="492.90" width="57.90" height="29.60" fill="#cc1612"/>
<path d="M1060.50,496.40L1052.30,504.60 M1074.90,496.40L1052.30,519.00 M1089.30,496.40L1066.70,519.00 M1103.20,496.90L1081.10,519.00 M1103.20,511.30L1095.50,519.00" stroke="#ffc8c0" stroke-width="1.5" fill="none"/>
<rect x="1050.60" y="494.70" width="54.30" height="26.00" fill="none" stroke="#000" stroke-width="3.6" rx="1.5"/>
<rect x="1048.80" y="532.20" width="57.90" height="29.00" fill="#0d7f0d"/>
<path d="M1059.90,535.70L1052.30,543.30 M1074.30,535.70L1052.30,557.70 M1088.70,535.70L1066.70,557.70 M1103.10,535.70L1081.10,557.70 M1103.20,550.00L1095.50,557.70" stroke="#b0ffb0" stroke-width="1.5" fill="none"/>
<rect x="1050.60" y="534.00" width="54.30" height="25.40" fill="none" stroke="#000" stroke-width="3.6" rx="1.5"/>
<text transform="translate(1111.46,516.44) scale(0.9632,1)" font-family='"Liberation Sans", sans-serif' font-size="25.72" font-weight="normal" font-style="normal" fill="#000">6H-SrIrO</text>
<text transform="translate(1212.52,525.36) scale(1.1481,1)" font-family='"Liberation Sans", sans-serif' font-size="13.57" font-weight="normal" font-style="normal" fill="#000">3</text>
<text transform="translate(1112.28,555.54) scale(0.9297,1)" font-family='"Liberation Sans", sans-serif' font-size="26.43" font-weight="normal" font-style="normal" fill="#000">3C-SrIrO</text>
<text transform="translate(1212.52,564.46) scale(1.0913,1)" font-family='"Liberation Sans", sans-serif' font-size="14.28" font-weight="normal" font-style="normal" fill="#000">3</text>
<text transform="translate(51.18,900.94) scale(1.1347,1)" font-family='"Liberation Sans", sans-serif' font-size="35.80" font-weight="bold" font-style="normal" fill="#000">e</text>
<text transform="translate(86.33,1319.74) scale(1.5394,1)" font-family='"Liberation Sans", sans-serif' font-size="15.83" font-weight="bold" font-style="normal" fill="#000">-6</text>
<line x1="113.70" y1="1314.30" x2="124.70" y2="1314.30" stroke="#000" stroke-width="2.6" />
<line x1="118.70" y1="1298.76" x2="124.70" y2="1298.76" stroke="#000" stroke-width="2.4" />
<text transform="translate(86.36,1257.76) scale(1.4426,1)" font-family='"Liberation Sans", sans-serif' font-size="16.29" font-weight="bold" font-style="normal" fill="#000">-4</text>
<line x1="113.70" y1="1252.16" x2="124.70" y2="1252.16" stroke="#000" stroke-width="2.6" />
<line x1="118.70" y1="1236.62" x2="124.70" y2="1236.62" stroke="#000" stroke-width="2.4" />
<text transform="translate(86.32,1195.61) scale(1.5223,1)" font-family='"Liberation Sans", sans-serif' font-size="16.06" font-weight="bold" font-style="normal" fill="#000">-2</text>
<line x1="113.70" y1="1190.01" x2="124.70" y2="1190.01" stroke="#000" stroke-width="2.6" />
<line x1="118.70" y1="1174.48" x2="124.70" y2="1174.48" stroke="#000" stroke-width="2.4" />
<text transform="translate(93.66,1133.31) scale(1.6491,1)" font-family='"Liberation Sans", sans-serif' font-size="15.83" font-weight="bold" font-style="normal" fill="#000">0</text>
<line x1="113.70" y1="1127.87" x2="124.70" y2="1127.87" stroke="#000" stroke-width="2.6" />
<line x1="118.70" y1="1112.34" x2="124.70" y2="1112.34" stroke="#000" stroke-width="2.4" />
<text transform="translate(93.80,1071.33) scale(1.6005,1)" font-family='"Liberation Sans", sans-serif' font-size="16.06" font-weight="bold" font-style="normal" fill="#000">2</text>
<line x1="113.70" y1="1065.73" x2="124.70" y2="1065.73" stroke="#000" stroke-width="2.6" />
<line x1="118.70" y1="1050.19" x2="124.70" y2="1050.19" stroke="#000" stroke-width="2.4" />
<text transform="translate(94.35,1009.19) scale(1.4227,1)" font-family='"Liberation Sans", sans-serif' font-size="16.29" font-weight="bold" font-style="normal" fill="#000">4</text>
<line x1="113.70" y1="1003.59" x2="124.70" y2="1003.59" stroke="#000" stroke-width="2.6" />
<line x1="118.70" y1="988.05" x2="124.70" y2="988.05" stroke="#000" stroke-width="2.4" />
<text transform="translate(93.74,946.88) scale(1.6234,1)" font-family='"Liberation Sans", sans-serif' font-size="15.83" font-weight="bold" font-style="normal" fill="#000">6</text>
<line x1="113.70" y1="941.44" x2="124.70" y2="941.44" stroke="#000" stroke-width="2.6" />
<line x1="118.70" y1="925.91" x2="124.70" y2="925.91" stroke="#000" stroke-width="2.4" />
<text transform="translate(93.88,884.74) scale(1.5905,1)" font-family='"Liberation Sans", sans-serif' font-size="15.83" font-weight="bold" font-style="normal" fill="#000">8</text>
<line x1="113.70" y1="879.30" x2="124.70" y2="879.30" stroke="#000" stroke-width="2.6" />
<path d="M124.7,1314.3 L124.7,879.3 L658,879.3 L658,1314.3 Z" fill="none" stroke="#000" stroke-width="2.7"/>
<line x1="124.70" y1="1127.87" x2="658.00" y2="1127.87" stroke="#666" stroke-width="1.8" stroke-dasharray="2,4.4"/>
<text transform="translate(71.70,1129.65) rotate(-90) scale(0.8580,1)" font-family='"Liberation Serif", serif' font-size="23.18" font-weight="normal" font-style="normal" fill="#000">Δ</text>
<text transform="translate(71.73,1117.81) rotate(-90) scale(0.7975,1)" font-family='"Liberation Sans", sans-serif' font-size="27.14" font-weight="bold" font-style="normal" fill="#000">G</text>
<text transform="translate(72.32,1100.65) rotate(-90) scale(0.7960,1)" font-family='"Liberation Serif", serif' font-size="27.23" font-weight="bold" font-style="normal" fill="#000">[eV]</text>
<clipPath id="mc1"><rect x="155.3" y="1002.1" width="63.5" height="86.49999999999989"/></clipPath>
<rect x="155.3" y="1002.1" width="63.50" height="86.50" fill="#fff"/>
<g clip-path="url(#mc1)">
<line x1="188.7" y1="1030.3" x2="176.8" y2="1025.0" stroke="#3434b8" stroke-width="2.3"/>
<line x1="176.8" y1="1025.0" x2="165.0" y2="1019.8" stroke="#b83030" stroke-width="2.3"/>
<line x1="188.7" y1="1030.3" x2="198.3" y2="1022.0" stroke="#3434b8" stroke-width="2.3"/>
<line x1="198.3" y1="1022.0" x2="207.9" y2="1013.8" stroke="#b83030" stroke-width="2.3"/>
<line x1="188.7" y1="1030.3" x2="188.7" y2="1051.3" stroke="#3434b8" stroke-width="2.3"/>
<line x1="188.7" y1="1051.3" x2="188.7" y2="1072.4" stroke="#3434b8" stroke-width="2.3"/>
<line x1="188.7" y1="1030.3" x2="199.4" y2="1041.9" stroke="#3434b8" stroke-width="2.3"/>
<line x1="199.4" y1="1041.9" x2="210.2" y2="1053.6" stroke="#b83030" stroke-width="2.3"/>
<line x1="210.2" y1="1053.6" x2="199.4" y2="1063.0" stroke="#b83030" stroke-width="2.3"/>
<line x1="199.4" y1="1063.0" x2="188.7" y2="1072.4" stroke="#3434b8" stroke-width="2.3"/>
<line x1="188.7" y1="1030.3" x2="183.1" y2="1039.7" stroke="#3434b8" stroke-width="2.3"/>
<line x1="183.1" y1="1039.7" x2="177.4" y2="1049.1" stroke="#b83030" stroke-width="2.3"/>
<line x1="177.4" y1="1049.1" x2="178.7" y2="1052.2" stroke="#b83030" stroke-width="2.3"/>
<line x1="178.7" y1="1052.2" x2="180.0" y2="1055.2" stroke="#b83030" stroke-width="2.3"/>
<line x1="180.0" y1="1055.2" x2="184.3" y2="1063.8" stroke="#b83030" stroke-width="2.3"/>
<line x1="184.3" y1="1063.8" x2="188.7" y2="1072.4" stroke="#3434b8" stroke-width="2.3"/>
<line x1="188.7" y1="1072.4" x2="175.6" y2="1078.5" stroke="#3434b8" stroke-width="2.3"/>
<line x1="175.6" y1="1078.5" x2="162.4" y2="1084.5" stroke="#b83030" stroke-width="2.3"/>
<line x1="188.7" y1="1072.4" x2="192.3" y2="1077.7" stroke="#3434b8" stroke-width="2.3"/>
<line x1="192.3" y1="1077.7" x2="195.9" y2="1083.0" stroke="#b83030" stroke-width="2.3"/>
<circle cx="207.9" cy="1047.6" r="9.5" fill="#3ee03e" stroke="#2aa02a" stroke-width="0.8" fill-opacity="0.95"/>
<circle cx="162.8" cy="1080.0" r="9.5" fill="#3ee03e" stroke="#2aa02a" stroke-width="0.8" fill-opacity="0.95"/>
<circle cx="165.0" cy="1019.8" r="4" fill="#e02020" stroke="#b01818" stroke-width="0.8"/><circle cx="164.2" cy="1019.0" r="1.4" fill="#ff7a6a"/>
<circle cx="207.9" cy="1013.8" r="4" fill="#e02020" stroke="#b01818" stroke-width="0.8"/><circle cx="207.1" cy="1013.0" r="1.4" fill="#ff7a6a"/>
<circle cx="177.4" cy="1049.1" r="4" fill="#e02020" stroke="#b01818" stroke-width="0.8"/><circle cx="176.6" cy="1048.3" r="1.4" fill="#ff7a6a"/>
<circle cx="180.0" cy="1055.2" r="4" fill="#e02020" stroke="#b01818" stroke-width="0.8"/><circle cx="179.2" cy="1054.4" r="1.4" fill="#ff7a6a"/>
<circle cx="210.2" cy="1053.6" r="4" fill="#e02020" stroke="#b01818" stroke-width="0.8"/><circle cx="209.4" cy="1052.8" r="1.4" fill="#ff7a6a"/>
<circle cx="162.4" cy="1084.5" r="4" fill="#e02020" stroke="#b01818" stroke-width="0.8"/><circle cx="161.6" cy="1083.7" r="1.4" fill="#ff7a6a"/>
<circle cx="195.9" cy="1083.0" r="4" fill="#e02020" stroke="#b01818" stroke-width="0.8"/><circle cx="195.1" cy="1082.2" r="1.4" fill="#ff7a6a"/>
<circle cx="188.7" cy="1030.3" r="7.4" fill="#2020d0"/><circle cx="187.6" cy="1029.2" r="2.6" fill="#6a6aff"/>
<circle cx="188.7" cy="1072.4" r="7.4" fill="#2020d0"/><circle cx="187.6" cy="1071.3" r="2.6" fill="#6a6aff"/>
</g>
<rect x="155.3" y="1002.1" width="63.50" height="86.50" fill="none" stroke="#999" stroke-width="1.2"/>
<clipPath id="mc2"><rect x="228.4" y="979.1" width="64.29999999999998" height="86.49999999999989"/></clipPath>
<rect x="228.4" y="979.1" width="64.30" height="86.50" fill="#fff"/>
<g clip-path="url(#mc2)">
<line x1="261.1" y1="1014.9" x2="251.0" y2="1009.6" stroke="#3434b8" stroke-width="2.3"/>
<line x1="251.0" y1="1009.6" x2="240.8" y2="1004.3" stroke="#b83030" stroke-width="2.3"/>
<line x1="261.1" y1="1014.9" x2="265.1" y2="1009.6" stroke="#3434b8" stroke-width="2.3"/>
<line x1="265.1" y1="1009.6" x2="269.0" y2="1004.3" stroke="#b83030" stroke-width="2.3"/>
<line x1="269.0" y1="1004.3" x2="272.0" y2="1001.5" stroke="#b83030" stroke-width="2.3"/>
<line x1="272.0" y1="1001.5" x2="275.0" y2="998.7" stroke="#b83030" stroke-width="2.3"/>
<line x1="275.0" y1="998.7" x2="271.4" y2="993.8" stroke="#b83030" stroke-width="2.3"/>
<line x1="271.4" y1="993.8" x2="267.9" y2="988.9" stroke="#888888" stroke-width="2.3"/>
<line x1="261.1" y1="1014.9" x2="261.1" y2="1034.0" stroke="#3434b8" stroke-width="2.3"/>
<line x1="261.1" y1="1034.0" x2="261.1" y2="1053.2" stroke="#3434b8" stroke-width="2.3"/>
<line x1="261.1" y1="1014.9" x2="270.9" y2="1025.0" stroke="#3434b8" stroke-width="2.3"/>
<line x1="270.9" y1="1025.0" x2="280.6" y2="1035.2" stroke="#b83030" stroke-width="2.3"/>
<line x1="280.6" y1="1035.2" x2="270.9" y2="1044.2" stroke="#b83030" stroke-width="2.3"/>
<line x1="270.9" y1="1044.2" x2="261.1" y2="1053.2" stroke="#3434b8" stroke-width="2.3"/>
<line x1="261.1" y1="1014.9" x2="254.9" y2="1025.0" stroke="#3434b8" stroke-width="2.3"/>
<line x1="254.9" y1="1025.0" x2="248.7" y2="1035.2" stroke="#b83030" stroke-width="2.3"/>
<line x1="248.7" y1="1035.2" x2="254.9" y2="1044.2" stroke="#b83030" stroke-width="2.3"/>
<line x1="254.9" y1="1044.2" x2="261.1" y2="1053.2" stroke="#3434b8" stroke-width="2.3"/>
<line x1="255.1" y1="1034.4" x2="258.1" y2="1043.8" stroke="#b83030" stroke-width="2.3"/>
<line x1="258.1" y1="1043.8" x2="261.1" y2="1053.2" stroke="#3434b8" stroke-width="2.3"/>
<line x1="261.1" y1="1014.9" x2="258.1" y2="1024.7" stroke="#3434b8" stroke-width="2.3"/>
<line x1="258.1" y1="1024.7" x2="255.1" y2="1034.4" stroke="#b83030" stroke-width="2.3"/>
<line x1="261.1" y1="1053.2" x2="249.5" y2="1058.3" stroke="#3434b8" stroke-width="2.3"/>
<line x1="249.5" y1="1058.3" x2="237.8" y2="1063.4" stroke="#b83030" stroke-width="2.3"/>
<line x1="261.1" y1="1053.2" x2="263.1" y2="1060.1" stroke="#3434b8" stroke-width="2.3"/>
<line x1="263.1" y1="1060.1" x2="265.0" y2="1067.0" stroke="#b83030" stroke-width="2.3"/>
<circle cx="277.6" cy="1037.4" r="9.5" fill="#3ee03e" stroke="#2aa02a" stroke-width="0.8" fill-opacity="0.95"/>
<circle cx="233.3" cy="1062.2" r="9" fill="#3ee03e" stroke="#2aa02a" stroke-width="0.8" fill-opacity="0.95"/>
<circle cx="240.8" cy="1004.3" r="4" fill="#e02020" stroke="#b01818" stroke-width="0.8"/><circle cx="240.0" cy="1003.5" r="1.4" fill="#ff7a6a"/>
<circle cx="275.0" cy="998.7" r="4" fill="#e02020" stroke="#b01818" stroke-width="0.8"/><circle cx="274.2" cy="997.9" r="1.4" fill="#ff7a6a"/>
<circle cx="269.0" cy="1004.3" r="4" fill="#e02020" stroke="#b01818" stroke-width="0.8"/><circle cx="268.2" cy="1003.5" r="1.4" fill="#ff7a6a"/>
<circle cx="248.7" cy="1035.2" r="4" fill="#e02020" stroke="#b01818" stroke-width="0.8"/><circle cx="247.9" cy="1034.4" r="1.4" fill="#ff7a6a"/>
<circle cx="255.1" cy="1034.4" r="4" fill="#e02020" stroke="#b01818" stroke-width="0.8"/><circle cx="254.3" cy="1033.6" r="1.4" fill="#ff7a6a"/>
<circle cx="280.6" cy="1035.2" r="4" fill="#e02020" stroke="#b01818" stroke-width="0.8"/><circle cx="279.8" cy="1034.4" r="1.4" fill="#ff7a6a"/>
<circle cx="237.8" cy="1063.4" r="4" fill="#e02020" stroke="#b01818" stroke-width="0.8"/><circle cx="237.0" cy="1062.6" r="1.4" fill="#ff7a6a"/>
<circle cx="265.0" cy="1067.0" r="4" fill="#e02020" stroke="#b01818" stroke-width="0.8"/><circle cx="264.2" cy="1066.2" r="1.4" fill="#ff7a6a"/>
<circle cx="261.1" cy="1014.9" r="7" fill="#2020d0"/><circle cx="260.1" cy="1013.9" r="2.4" fill="#6a6aff"/>
<circle cx="261.1" cy="1053.2" r="7" fill="#2020d0"/><circle cx="260.1" cy="1052.2" r="2.4" fill="#6a6aff"/>
<circle cx="267.9" cy="988.9" r="3.3" fill="#fff" stroke="#999" stroke-width="1.3"/>
</g>
<rect x="228.4" y="979.1" width="64.30" height="86.50" fill="none" stroke="#999" stroke-width="1.2"/>
<clipPath id="mc3"><rect x="302.1" y="945.1" width="63.599999999999966" height="86.49999999999989"/></clipPath>
<rect x="302.1" y="945.1" width="63.60" height="86.50" fill="#fff"/>
<g clip-path="url(#mc3)">
<line x1="337.5" y1="971.5" x2="325.6" y2="966.2" stroke="#3434b8" stroke-width="2.3"/>
<line x1="325.6" y1="966.2" x2="313.8" y2="960.9" stroke="#b83030" stroke-width="2.3"/>
<line x1="337.5" y1="971.5" x2="342.2" y2="966.2" stroke="#3434b8" stroke-width="2.3"/>
<line x1="342.2" y1="966.2" x2="346.9" y2="960.9" stroke="#b83030" stroke-width="2.3"/>
<line x1="337.5" y1="971.5" x2="337.5" y2="993.1" stroke="#3434b8" stroke-width="2.3"/>
<line x1="337.5" y1="993.1" x2="337.5" y2="1014.7" stroke="#3434b8" stroke-width="2.3"/>
<line x1="337.5" y1="971.5" x2="348.0" y2="983.9" stroke="#3434b8" stroke-width="2.3"/>
<line x1="348.0" y1="983.9" x2="358.5" y2="996.3" stroke="#b83030" stroke-width="2.3"/>
<line x1="358.5" y1="996.3" x2="348.0" y2="1005.5" stroke="#b83030" stroke-width="2.3"/>
<line x1="348.0" y1="1005.5" x2="337.5" y2="1014.7" stroke="#3434b8" stroke-width="2.3"/>
<line x1="337.5" y1="971.5" x2="331.3" y2="982.5" stroke="#3434b8" stroke-width="2.3"/>
<line x1="331.3" y1="982.5" x2="325.1" y2="993.6" stroke="#b83030" stroke-width="2.3"/>
<line x1="325.1" y1="993.6" x2="331.3" y2="1004.2" stroke="#b83030" stroke-width="2.3"/>
<line x1="331.3" y1="1004.2" x2="337.5" y2="1014.7" stroke="#3434b8" stroke-width="2.3"/>
<line x1="330.7" y1="995.9" x2="334.1" y2="1005.3" stroke="#b83030" stroke-width="2.3"/>
<line x1="334.1" y1="1005.3" x2="337.5" y2="1014.7" stroke="#3434b8" stroke-width="2.3"/>
<line x1="337.5" y1="1014.7" x2="324.1" y2="1020.7" stroke="#3434b8" stroke-width="2.3"/>
<line x1="324.1" y1="1020.7" x2="310.8" y2="1026.7" stroke="#b83030" stroke-width="2.3"/>
<line x1="337.5" y1="1014.7" x2="339.9" y2="1021.9" stroke="#3434b8" stroke-width="2.3"/>
<line x1="339.9" y1="1021.9" x2="342.4" y2="1029.0" stroke="#b83030" stroke-width="2.3"/>
<circle cx="353.6" cy="995.1" r="11" fill="#3ee03e" stroke="#2aa02a" stroke-width="0.8" fill-opacity="0.95"/>
<circle cx="311.5" cy="1024.5" r="9" fill="#3ee03e" stroke="#2aa02a" stroke-width="0.8" fill-opacity="0.95"/>
<circle cx="313.8" cy="960.9" r="4" fill="#e02020" stroke="#b01818" stroke-width="0.8"/><circle cx="313.0" cy="960.1" r="1.4" fill="#ff7a6a"/>
<circle cx="346.9" cy="960.9" r="4" fill="#e02020" stroke="#b01818" stroke-width="0.8"/><circle cx="346.1" cy="960.1" r="1.4" fill="#ff7a6a"/>
<circle cx="351.4" cy="960.9" r="4" fill="#e02020" stroke="#b01818" stroke-width="0.8"/><circle cx="350.6" cy="960.1" r="1.4" fill="#ff7a6a"/>
<circle cx="325.1" cy="993.6" r="4" fill="#e02020" stroke="#b01818" stroke-width="0.8"/><circle cx="324.3" cy="992.8" r="1.4" fill="#ff7a6a"/>
<circle cx="330.7" cy="995.9" r="4" fill="#e02020" stroke="#b01818" stroke-width="0.8"/><circle cx="329.9" cy="995.1" r="1.4" fill="#ff7a6a"/>
<circle cx="358.5" cy="996.3" r="4" fill="#e02020" stroke="#b01818" stroke-width="0.8"/><circle cx="357.7" cy="995.5" r="1.4" fill="#ff7a6a"/>
<circle cx="310.8" cy="1026.7" r="4" fill="#e02020" stroke="#b01818" stroke-width="0.8"/><circle cx="310.0" cy="1025.9" r="1.4" fill="#ff7a6a"/>
<circle cx="342.4" cy="1029.0" r="4" fill="#e02020" stroke="#b01818" stroke-width="0.8"/><circle cx="341.6" cy="1028.2" r="1.4" fill="#ff7a6a"/>
<circle cx="337.5" cy="971.5" r="7.3" fill="#2020d0"/><circle cx="336.4" cy="970.4" r="2.6" fill="#6a6aff"/>
<circle cx="337.5" cy="1014.7" r="7.3" fill="#2020d0"/><circle cx="336.4" cy="1013.6" r="2.6" fill="#6a6aff"/>
</g>
<rect x="302.1" y="945.1" width="63.60" height="86.50" fill="none" stroke="#999" stroke-width="1.2"/>
<clipPath id="mc4"><rect x="375.6" y="890.1" width="63.599999999999966" height="86.5"/></clipPath>
<rect x="375.6" y="890.1" width="63.60" height="86.50" fill="#fff"/>
<g clip-path="url(#mc4)">
<line x1="404.6" y1="928.9" x2="394.2" y2="924.0" stroke="#3434b8" stroke-width="2.3"/>
<line x1="394.2" y1="924.0" x2="383.9" y2="919.1" stroke="#b83030" stroke-width="2.3"/>
<line x1="404.6" y1="928.9" x2="409.5" y2="922.8" stroke="#3434b8" stroke-width="2.3"/>
<line x1="409.5" y1="922.8" x2="414.4" y2="916.8" stroke="#b83030" stroke-width="2.3"/>
<line x1="414.4" y1="916.8" x2="414.2" y2="906.8" stroke="#b83030" stroke-width="2.3"/>
<line x1="414.2" y1="906.8" x2="414.0" y2="896.9" stroke="#b83030" stroke-width="2.3"/>
<line x1="404.6" y1="928.9" x2="404.4" y2="949.2" stroke="#3434b8" stroke-width="2.3"/>
<line x1="404.4" y1="949.2" x2="404.2" y2="969.5" stroke="#3434b8" stroke-width="2.3"/>
<line x1="404.6" y1="928.9" x2="414.4" y2="939.8" stroke="#3434b8" stroke-width="2.3"/>
<line x1="414.4" y1="939.8" x2="424.1" y2="950.7" stroke="#b83030" stroke-width="2.3"/>
<line x1="424.1" y1="950.7" x2="414.1" y2="960.1" stroke="#b83030" stroke-width="2.3"/>
<line x1="414.1" y1="960.1" x2="404.2" y2="969.5" stroke="#3434b8" stroke-width="2.3"/>
<line x1="404.6" y1="928.9" x2="398.4" y2="938.6" stroke="#3434b8" stroke-width="2.3"/>
<line x1="398.4" y1="938.6" x2="392.2" y2="948.4" stroke="#b83030" stroke-width="2.3"/>
<line x1="392.2" y1="948.4" x2="398.2" y2="959.0" stroke="#b83030" stroke-width="2.3"/>
<line x1="398.2" y1="959.0" x2="404.2" y2="969.5" stroke="#3434b8" stroke-width="2.3"/>
<line x1="398.2" y1="951.4" x2="401.2" y2="960.5" stroke="#b83030" stroke-width="2.3"/>
<line x1="401.2" y1="960.5" x2="404.2" y2="969.5" stroke="#3434b8" stroke-width="2.3"/>
<circle cx="421.1" cy="949.2" r="11" fill="#3ee03e" stroke="#2aa02a" stroke-width="0.8" fill-opacity="0.95"/>
<circle cx="386.9" cy="973.2" r="11" fill="#3ee03e" stroke="#2aa02a" stroke-width="0.8" fill-opacity="0.95"/>
<circle cx="414.0" cy="896.9" r="4" fill="#e02020" stroke="#b01818" stroke-width="0.8"/><circle cx="413.2" cy="896.1" r="1.4" fill="#ff7a6a"/>
<circle cx="383.9" cy="919.1" r="4" fill="#e02020" stroke="#b01818" stroke-width="0.8"/><circle cx="383.1" cy="918.3" r="1.4" fill="#ff7a6a"/>
<circle cx="414.4" cy="916.8" r="4" fill="#e02020" stroke="#b01818" stroke-width="0.8"/><circle cx="413.6" cy="916.0" r="1.4" fill="#ff7a6a"/>
<circle cx="418.9" cy="916.1" r="4" fill="#e02020" stroke="#b01818" stroke-width="0.8"/><circle cx="418.1" cy="915.3" r="1.4" fill="#ff7a6a"/>
<circle cx="392.2" cy="948.4" r="4" fill="#e02020" stroke="#b01818" stroke-width="0.8"/><circle cx="391.4" cy="947.6" r="1.4" fill="#ff7a6a"/>
<circle cx="398.2" cy="951.4" r="4" fill="#e02020" stroke="#b01818" stroke-width="0.8"/><circle cx="397.4" cy="950.6" r="1.4" fill="#ff7a6a"/>
<circle cx="424.1" cy="950.7" r="4" fill="#e02020" stroke="#b01818" stroke-width="0.8"/><circle cx="423.3" cy="949.9" r="1.4" fill="#ff7a6a"/>
<circle cx="420.0" cy="975.5" r="4" fill="#e02020" stroke="#b01818" stroke-width="0.8"/><circle cx="419.2" cy="974.7" r="1.4" fill="#ff7a6a"/>
<circle cx="404.6" cy="928.9" r="7.2" fill="#2020d0"/><circle cx="403.5" cy="927.8" r="2.5" fill="#6a6aff"/>
<circle cx="404.2" cy="969.5" r="7.2" fill="#2020d0"/><circle cx="403.1" cy="968.4" r="2.5" fill="#6a6aff"/>
<circle cx="419.2" cy="897.7" r="3.4" fill="#fff" stroke="#999" stroke-width="1.3"/>
</g>
<rect x="375.6" y="890.1" width="63.60" height="86.50" fill="none" stroke="#999" stroke-width="1.2"/>
<path d="M159.6,1128.0 L231.7,1128.0 L231.7,1162.2 L302.9,1162.2 L302.9,1175 L444.7,1175 L444.7,1186.2 L516.2,1186.2" stroke="#000" stroke-width="2.6" fill="none" />
<path d="M231.7,1128.0 L231.7,1109.5 L302.5,1109.5 L302.5,1068.9 L373.1,1068.9 L373.1,1016.7 L444,1016.7 L444,974.8 L515.9,974.8" stroke="#e31b1b" stroke-width="2.7" fill="none" />
<text transform="translate(148.25,910.65) scale(0.9362,1)" font-family='"Liberation Serif", serif' font-size="34.58" font-weight="bold" font-style="italic" fill="#000">η</text>
<text transform="translate(171.40,912.50) scale(1.1765,1)" font-family='"Liberation Serif", serif' font-size="34.00" font-weight="bold" font-style="normal" fill="#000">=</text>
<text transform="translate(200.65,912.19) scale(0.9748,1)" font-family='"Liberation Serif", serif' font-size="34.12" font-weight="bold" font-style="normal" fill="#000">0.46 V</text>
<text transform="translate(183.79,1118.03) scale(0.9926,1)" font-family='"Liberation Serif", serif' font-size="27.26" font-weight="bold" font-style="normal" fill="#000">0</text>
<text transform="translate(131.37,1155.00) scale(1.0844,1)" font-family='"Liberation Serif", serif' font-size="24.60" font-weight="bold" font-style="normal" fill="#000">*+2H</text>
<text transform="translate(193.33,1161.10) scale(1.2431,1)" font-family='"Liberation Serif", serif' font-size="18.42" font-weight="bold" font-style="normal" fill="#000">2</text>
<text transform="translate(203.83,1154.95) scale(1.1764,1)" font-family='"Liberation Serif", serif' font-size="24.54" font-weight="bold" font-style="normal" fill="#000">O</text>
<text transform="translate(238.54,1133.64) scale(1.0170,1)" font-family='"Liberation Serif", serif' font-size="26.17" font-weight="bold" font-style="normal" fill="#000">OH*</text>
<text transform="translate(236.15,1096.58) scale(1.0019,1)" font-family='"Liberation Serif", serif' font-size="27.94" font-weight="bold" font-style="normal" fill="#000">0.56</text>
<text transform="translate(308.34,1053.49) scale(1.0370,1)" font-family='"Liberation Serif", serif' font-size="27.21" font-weight="bold" font-style="normal" fill="#000">1.88</text>
<text transform="translate(322.93,1094.04) scale(1.0437,1)" font-family='"Liberation Serif", serif' font-size="25.58" font-weight="bold" font-style="normal" fill="#000">O*</text>
<text transform="translate(384.60,1044.93) scale(1.0274,1)" font-family='"Liberation Serif", serif' font-size="26.62" font-weight="bold" font-style="normal" fill="#000">OOH*</text>
<text transform="translate(387.99,1007.80) scale(1.0205,1)" font-family='"Liberation Serif", serif' font-size="26.42" font-weight="bold" font-style="normal" fill="#000">3.57</text>
<text transform="translate(452.17,959.20) scale(1.0081,1)" font-family='"Liberation Serif", serif' font-size="26.57" font-weight="bold" font-style="normal" fill="#000">4.92</text>
<text transform="translate(464.95,999.55) scale(1.0495,1)" font-family='"Liberation Serif", serif' font-size="25.13" font-weight="bold" font-style="normal" fill="#000">O</text>
<text transform="translate(484.23,1006.10) scale(1.3074,1)" font-family='"Liberation Serif", serif' font-size="17.51" font-weight="bold" font-style="normal" fill="#000">2</text>
<text transform="translate(231.95,1191.31) scale(1.0683,1)" font-family='"Liberation Serif", serif' font-size="26.13" font-weight="bold" font-style="normal" fill="#000">-1.13</text>
<text transform="translate(305.75,1201.60) scale(1.0384,1)" font-family='"Liberation Serif", serif' font-size="26.91" font-weight="bold" font-style="normal" fill="#000">-1.50</text>
<text transform="translate(379.45,1201.60) scale(1.0403,1)" font-family='"Liberation Serif", serif' font-size="26.91" font-weight="bold" font-style="normal" fill="#000">-1.50</text>
<text transform="translate(446.86,1212.11) scale(1.0691,1)" font-family='"Liberation Serif", serif' font-size="25.88" font-weight="bold" font-style="normal" fill="#000">-1.84</text>
<text transform="translate(537.50,979.50) scale(1.4093,1)" font-family='"Liberation Sans", sans-serif' font-size="19.78" font-weight="bold" font-style="italic" fill="#e31b1b">U</text>
<text transform="translate(558.39,979.60) scale(0.9596,1)" font-family='"Liberation Sans", sans-serif' font-size="19.80" font-weight="bold" font-style="normal" fill="#e31b1b">=</text>
<text transform="translate(572.98,979.50) scale(1.3037,1)" font-family='"Liberation Sans", sans-serif' font-size="19.51" font-weight="bold" font-style="normal" fill="#e31b1b">0 V</text>
<text transform="translate(534.50,1193.78) scale(1.2880,1)" font-family='"Liberation Sans", sans-serif' font-size="21.65" font-weight="bold" font-style="italic" fill="#000">U</text>
<text transform="translate(555.39,1193.90) scale(0.8837,1)" font-family='"Liberation Sans", sans-serif' font-size="21.50" font-weight="bold" font-style="normal" fill="#000">=</text>
<text transform="translate(569.43,1193.79) scale(1.1770,1)" font-family='"Liberation Sans", sans-serif' font-size="21.34" font-weight="bold" font-style="normal" fill="#000">1.69 V</text>
<text transform="translate(683.89,907.80) scale(1.1189,1)" font-family='"Liberation Sans", sans-serif' font-size="41.38" font-weight="bold" font-style="normal" fill="#000">f</text>
<text transform="translate(711.33,1317.64) scale(1.5394,1)" font-family='"Liberation Sans", sans-serif' font-size="15.83" font-weight="bold" font-style="normal" fill="#000">-6</text>
<line x1="738.60" y1="1312.20" x2="749.60" y2="1312.20" stroke="#000" stroke-width="2.6" />
<line x1="743.60" y1="1296.78" x2="749.60" y2="1296.78" stroke="#000" stroke-width="2.4" />
<text transform="translate(711.36,1256.13) scale(1.4426,1)" font-family='"Liberation Sans", sans-serif' font-size="16.29" font-weight="bold" font-style="normal" fill="#000">-4</text>
<line x1="738.60" y1="1250.53" x2="749.60" y2="1250.53" stroke="#000" stroke-width="2.6" />
<line x1="743.60" y1="1235.11" x2="749.60" y2="1235.11" stroke="#000" stroke-width="2.4" />
<text transform="translate(711.32,1194.46) scale(1.5223,1)" font-family='"Liberation Sans", sans-serif' font-size="16.06" font-weight="bold" font-style="normal" fill="#000">-2</text>
<line x1="738.60" y1="1188.86" x2="749.60" y2="1188.86" stroke="#000" stroke-width="2.6" />
<line x1="743.60" y1="1173.44" x2="749.60" y2="1173.44" stroke="#000" stroke-width="2.4" />
<text transform="translate(718.66,1132.63) scale(1.6491,1)" font-family='"Liberation Sans", sans-serif' font-size="15.83" font-weight="bold" font-style="normal" fill="#000">0</text>
<line x1="738.60" y1="1127.19" x2="749.60" y2="1127.19" stroke="#000" stroke-width="2.6" />
<line x1="743.60" y1="1111.77" x2="749.60" y2="1111.77" stroke="#000" stroke-width="2.4" />
<text transform="translate(718.80,1071.11) scale(1.6005,1)" font-family='"Liberation Sans", sans-serif' font-size="16.06" font-weight="bold" font-style="normal" fill="#000">2</text>
<line x1="738.60" y1="1065.51" x2="749.60" y2="1065.51" stroke="#000" stroke-width="2.6" />
<line x1="743.60" y1="1050.10" x2="749.60" y2="1050.10" stroke="#000" stroke-width="2.4" />
<text transform="translate(719.35,1009.44) scale(1.4227,1)" font-family='"Liberation Sans", sans-serif' font-size="16.29" font-weight="bold" font-style="normal" fill="#000">4</text>
<line x1="738.60" y1="1003.84" x2="749.60" y2="1003.84" stroke="#000" stroke-width="2.6" />
<line x1="743.60" y1="988.42" x2="749.60" y2="988.42" stroke="#000" stroke-width="2.4" />
<text transform="translate(718.74,947.61) scale(1.6234,1)" font-family='"Liberation Sans", sans-serif' font-size="15.83" font-weight="bold" font-style="normal" fill="#000">6</text>
<line x1="738.60" y1="942.17" x2="749.60" y2="942.17" stroke="#000" stroke-width="2.6" />
<line x1="743.60" y1="926.75" x2="749.60" y2="926.75" stroke="#000" stroke-width="2.4" />
<text transform="translate(718.88,885.94) scale(1.5905,1)" font-family='"Liberation Sans", sans-serif' font-size="15.83" font-weight="bold" font-style="normal" fill="#000">8</text>
<line x1="738.60" y1="880.50" x2="749.60" y2="880.50" stroke="#000" stroke-width="2.6" />
<path d="M749.6,1312.2 L749.6,880.5 L1280.8,880.5 L1280.8,1312.2 Z" fill="none" stroke="#000" stroke-width="2.7"/>
<line x1="749.60" y1="1127.19" x2="1280.80" y2="1127.19" stroke="#666" stroke-width="1.8" stroke-dasharray="2,4.4"/>
<text transform="translate(695.50,1128.64) rotate(-90) scale(1.3029,1)" font-family='"Liberation Serif", serif' font-size="15.15" font-weight="normal" font-style="normal" fill="#000">Δ</text>
<text transform="translate(695.60,1116.90) rotate(-90) scale(1.0932,1)" font-family='"Liberation Sans", sans-serif' font-size="19.65" font-weight="bold" font-style="normal" fill="#000">G</text>
<text transform="translate(696.99,1099.86) rotate(-90) scale(1.0320,1)" font-family='"Liberation Serif", serif' font-size="20.84" font-weight="bold" font-style="normal" fill="#000">[eV]</text>
<clipPath id="mc5"><rect x="777.2" y="1007.3" width="60.19999999999993" height="80.20000000000005"/></clipPath>
<rect x="777.2" y="1007.3" width="60.20" height="80.20" fill="#fff"/>
<g clip-path="url(#mc5)">
<line x1="797.2" y1="1030.4" x2="794.5" y2="1025.8" stroke="#3434b8" stroke-width="2.3"/>
<line x1="794.5" y1="1025.8" x2="791.7" y2="1021.1" stroke="#b83030" stroke-width="2.3"/>
<line x1="797.2" y1="1030.4" x2="803.8" y2="1026.1" stroke="#3434b8" stroke-width="2.3"/>
<line x1="803.8" y1="1026.1" x2="810.4" y2="1021.8" stroke="#b83030" stroke-width="2.3"/>
<line x1="797.2" y1="1030.4" x2="787.9" y2="1033.8" stroke="#3434b8" stroke-width="2.3"/>
<line x1="787.9" y1="1033.8" x2="778.6" y2="1037.3" stroke="#b83030" stroke-width="2.3"/>
<line x1="797.2" y1="1030.4" x2="798.8" y2="1038.0" stroke="#3434b8" stroke-width="2.3"/>
<line x1="798.8" y1="1038.0" x2="800.4" y2="1045.6" stroke="#b83030" stroke-width="2.3"/>
<line x1="800.4" y1="1045.6" x2="806.6" y2="1049.1" stroke="#b83030" stroke-width="2.3"/>
<line x1="806.6" y1="1049.1" x2="812.8" y2="1052.6" stroke="#3434b8" stroke-width="2.3"/>
<line x1="812.8" y1="1052.6" x2="820.4" y2="1047.0" stroke="#3434b8" stroke-width="2.3"/>
<line x1="820.4" y1="1047.0" x2="828.0" y2="1041.5" stroke="#2f7f3a" stroke-width="2.3"/>
<line x1="812.8" y1="1052.6" x2="805.3" y2="1059.3" stroke="#3434b8" stroke-width="2.3"/>
<line x1="805.3" y1="1059.3" x2="797.9" y2="1066.0" stroke="#2f7f3a" stroke-width="2.3"/>
<line x1="812.8" y1="1052.6" x2="814.2" y2="1066.0" stroke="#3434b8" stroke-width="2.3"/>
<line x1="814.2" y1="1066.0" x2="815.6" y2="1079.5" stroke="#3434b8" stroke-width="2.3"/>
<line x1="812.8" y1="1052.6" x2="817.3" y2="1058.8" stroke="#3434b8" stroke-width="2.3"/>
<line x1="817.3" y1="1058.8" x2="821.8" y2="1065.0" stroke="#b83030" stroke-width="2.3"/>
<line x1="821.8" y1="1065.0" x2="818.7" y2="1072.2" stroke="#b83030" stroke-width="2.3"/>
<line x1="818.7" y1="1072.2" x2="815.6" y2="1079.5" stroke="#3434b8" stroke-width="2.3"/>
<line x1="815.6" y1="1079.5" x2="806.8" y2="1072.8" stroke="#3434b8" stroke-width="2.3"/>
<line x1="806.8" y1="1072.8" x2="797.9" y2="1066.0" stroke="#2f7f3a" stroke-width="2.3"/>
<line x1="815.6" y1="1079.5" x2="823.2" y2="1082.0" stroke="#3434b8" stroke-width="2.3"/>
<line x1="823.2" y1="1082.0" x2="830.8" y2="1084.4" stroke="#2f7f3a" stroke-width="2.3"/>
<line x1="815.6" y1="1079.5" x2="812.7" y2="1083.0" stroke="#3434b8" stroke-width="2.3"/>
<line x1="812.7" y1="1083.0" x2="809.7" y2="1086.4" stroke="#b83030" stroke-width="2.3"/>
<line x1="825.6" y1="1037.7" x2="831.3" y2="1035.3" stroke="#b83030" stroke-width="2.3"/>
<line x1="831.3" y1="1035.3" x2="837.0" y2="1033.0" stroke="#b83030" stroke-width="2.3"/>
<circle cx="783.1" cy="1041.5" r="8" fill="#3ee03e" stroke="#2aa02a" stroke-width="0.8" fill-opacity="0.95"/>
<circle cx="828.0" cy="1041.5" r="8" fill="#3ee03e" stroke="#2aa02a" stroke-width="0.8" fill-opacity="0.95"/>
<circle cx="797.9" cy="1066.0" r="8" fill="#3ee03e" stroke="#2aa02a" stroke-width="0.8" fill-opacity="0.95"/>
<circle cx="784.1" cy="1085.0" r="8" fill="#3ee03e" stroke="#2aa02a" stroke-width="0.8" fill-opacity="0.95"/>
<circle cx="830.8" cy="1084.4" r="7.5" fill="#3ee03e" stroke="#2aa02a" stroke-width="0.8" fill-opacity="0.95"/>
<circle cx="791.7" cy="1021.1" r="3.2" fill="#e02020" stroke="#b01818" stroke-width="0.8"/><circle cx="791.1" cy="1020.5" r="1.1" fill="#ff7a6a"/>
<circle cx="810.4" cy="1021.8" r="3.2" fill="#e02020" stroke="#b01818" stroke-width="0.8"/><circle cx="809.8" cy="1021.2" r="1.1" fill="#ff7a6a"/>
<circle cx="800.4" cy="1045.6" r="3.2" fill="#e02020" stroke="#b01818" stroke-width="0.8"/><circle cx="799.8" cy="1045.0" r="1.1" fill="#ff7a6a"/>
<circle cx="821.8" cy="1065.0" r="3.2" fill="#e02020" stroke="#b01818" stroke-width="0.8"/><circle cx="821.2" cy="1064.4" r="1.1" fill="#ff7a6a"/>
<circle cx="778.6" cy="1037.3" r="3.2" fill="#e02020" stroke="#b01818" stroke-width="0.8"/><circle cx="778.0" cy="1036.7" r="1.1" fill="#ff7a6a"/>
<circle cx="825.6" cy="1037.7" r="3.2" fill="#e02020" stroke="#b01818" stroke-width="0.8"/><circle cx="825.0" cy="1037.1" r="1.1" fill="#ff7a6a"/>
<circle cx="809.7" cy="1086.4" r="3.2" fill="#e02020" stroke="#b01818" stroke-width="0.8"/><circle cx="809.1" cy="1085.8" r="1.1" fill="#ff7a6a"/>
<circle cx="837.0" cy="1033.0" r="2" fill="#e02020" stroke="#b01818" stroke-width="0.8"/><circle cx="836.6" cy="1032.6" r="0.7" fill="#ff7a6a"/>
<circle cx="797.2" cy="1030.4" r="5.2" fill="#2020d0"/><circle cx="796.4" cy="1029.6" r="1.8" fill="#6a6aff"/>
<circle cx="812.8" cy="1052.6" r="5.2" fill="#2020d0"/><circle cx="812.0" cy="1051.8" r="1.8" fill="#6a6aff"/>
<circle cx="815.6" cy="1079.5" r="5.2" fill="#2020d0"/><circle cx="814.8" cy="1078.7" r="1.8" fill="#6a6aff"/>
</g>
<rect x="777.2" y="1007.3" width="60.20" height="80.20" fill="none" stroke="#666" stroke-width="1.2"/>
<clipPath id="mc6"><rect x="852.2" y="991.6" width="59.5" height="79.80000000000007"/></clipPath>
<rect x="852.2" y="991.6" width="59.50" height="79.80" fill="#fff"/>
<g clip-path="url(#mc6)">
<line x1="880.9" y1="1014.4" x2="878.8" y2="1009.4" stroke="#3434b8" stroke-width="2.3"/>
<line x1="878.8" y1="1009.4" x2="876.7" y2="1004.4" stroke="#b83030" stroke-width="2.3"/>
<line x1="880.9" y1="1014.4" x2="888.6" y2="1010.6" stroke="#3434b8" stroke-width="2.3"/>
<line x1="888.6" y1="1010.6" x2="896.4" y2="1006.8" stroke="#b83030" stroke-width="2.3"/>
<line x1="880.9" y1="1014.4" x2="873.1" y2="1019.2" stroke="#3434b8" stroke-width="2.3"/>
<line x1="873.1" y1="1019.2" x2="865.3" y2="1024.1" stroke="#2f7f3a" stroke-width="2.3"/>
<line x1="880.9" y1="1014.4" x2="883.0" y2="1021.3" stroke="#3434b8" stroke-width="2.3"/>
<line x1="883.0" y1="1021.3" x2="885.0" y2="1028.2" stroke="#b83030" stroke-width="2.3"/>
<line x1="889.5" y1="1028.6" x2="893.5" y2="1032.4" stroke="#b83030" stroke-width="2.3"/>
<line x1="893.5" y1="1032.4" x2="897.5" y2="1036.2" stroke="#3434b8" stroke-width="2.3"/>
<line x1="897.5" y1="1036.2" x2="903.4" y2="1030.0" stroke="#3434b8" stroke-width="2.3"/>
<line x1="903.4" y1="1030.0" x2="909.2" y2="1023.7" stroke="#2f7f3a" stroke-width="2.3"/>
<line x1="897.5" y1="1036.2" x2="890.2" y2="1042.8" stroke="#3434b8" stroke-width="2.3"/>
<line x1="890.2" y1="1042.8" x2="883.0" y2="1049.3" stroke="#2f7f3a" stroke-width="2.3"/>
<line x1="897.5" y1="1036.2" x2="899.0" y2="1049.7" stroke="#3434b8" stroke-width="2.3"/>
<line x1="899.0" y1="1049.7" x2="900.6" y2="1063.1" stroke="#3434b8" stroke-width="2.3"/>
<line x1="897.5" y1="1036.2" x2="902.0" y2="1042.4" stroke="#3434b8" stroke-width="2.3"/>
<line x1="902.0" y1="1042.4" x2="906.5" y2="1048.6" stroke="#b83030" stroke-width="2.3"/>
<line x1="906.5" y1="1048.6" x2="903.5" y2="1055.8" stroke="#b83030" stroke-width="2.3"/>
<line x1="903.5" y1="1055.8" x2="900.6" y2="1063.1" stroke="#3434b8" stroke-width="2.3"/>
<line x1="900.6" y1="1063.1" x2="898.0" y2="1066.5" stroke="#3434b8" stroke-width="2.3"/>
<line x1="898.0" y1="1066.5" x2="895.4" y2="1070.0" stroke="#b83030" stroke-width="2.3"/>
<line x1="854.6" y1="1036.2" x2="860.0" y2="1030.2" stroke="#3434b8" stroke-width="2.3"/>
<line x1="860.0" y1="1030.2" x2="865.3" y2="1024.1" stroke="#2f7f3a" stroke-width="2.3"/>
<line x1="854.6" y1="1036.2" x2="856.9" y2="1042.4" stroke="#3434b8" stroke-width="2.3"/>
<line x1="856.9" y1="1042.4" x2="859.1" y2="1048.6" stroke="#b83030" stroke-width="2.3"/>
<line x1="859.1" y1="1048.6" x2="856.9" y2="1055.8" stroke="#b83030" stroke-width="2.3"/>
<line x1="856.9" y1="1055.8" x2="854.6" y2="1063.1" stroke="#3434b8" stroke-width="2.3"/>
<line x1="854.6" y1="1063.1" x2="861.7" y2="1064.8" stroke="#3434b8" stroke-width="2.3"/>
<line x1="861.7" y1="1064.8" x2="868.8" y2="1066.6" stroke="#2f7f3a" stroke-width="2.3"/>
<circle cx="865.3" cy="1024.1" r="8" fill="#3ee03e" stroke="#2aa02a" stroke-width="0.8" fill-opacity="0.95"/>
<circle cx="883.0" cy="1049.3" r="8" fill="#3ee03e" stroke="#2aa02a" stroke-width="0.8" fill-opacity="0.95"/>
<circle cx="909.2" cy="1023.7" r="7.5" fill="#3ee03e" stroke="#2aa02a" stroke-width="0.8" fill-opacity="0.95"/>
<circle cx="868.8" cy="1066.6" r="8" fill="#3ee03e" stroke="#2aa02a" stroke-width="0.8" fill-opacity="0.95"/>
<circle cx="871.2" cy="1003.3" r="3.2" fill="#e02020" stroke="#b01818" stroke-width="0.8"/><circle cx="870.6" cy="1002.7" r="1.1" fill="#ff7a6a"/>
<circle cx="876.7" cy="1004.4" r="3.2" fill="#e02020" stroke="#b01818" stroke-width="0.8"/><circle cx="876.1" cy="1003.8" r="1.1" fill="#ff7a6a"/>
<circle cx="896.4" cy="1006.8" r="3.2" fill="#e02020" stroke="#b01818" stroke-width="0.8"/><circle cx="895.8" cy="1006.2" r="1.1" fill="#ff7a6a"/>
<circle cx="885.0" cy="1028.2" r="3.2" fill="#e02020" stroke="#b01818" stroke-width="0.8"/><circle cx="884.4" cy="1027.6" r="1.1" fill="#ff7a6a"/>
<circle cx="889.5" cy="1028.6" r="3.2" fill="#e02020" stroke="#b01818" stroke-width="0.8"/><circle cx="888.9" cy="1028.0" r="1.1" fill="#ff7a6a"/>
<circle cx="906.5" cy="1048.6" r="3.2" fill="#e02020" stroke="#b01818" stroke-width="0.8"/><circle cx="905.9" cy="1048.0" r="1.1" fill="#ff7a6a"/>
<circle cx="859.1" cy="1048.6" r="3.2" fill="#e02020" stroke="#b01818" stroke-width="0.8"/><circle cx="858.5" cy="1048.0" r="1.1" fill="#ff7a6a"/>
<circle cx="895.4" cy="1070.0" r="3.2" fill="#e02020" stroke="#b01818" stroke-width="0.8"/><circle cx="894.8" cy="1069.4" r="1.1" fill="#ff7a6a"/>
<circle cx="880.9" cy="1014.4" r="5.2" fill="#2020d0"/><circle cx="880.1" cy="1013.6" r="1.8" fill="#6a6aff"/>
<circle cx="897.5" cy="1036.2" r="5.2" fill="#2020d0"/><circle cx="896.7" cy="1035.4" r="1.8" fill="#6a6aff"/>
<circle cx="900.6" cy="1063.1" r="5.2" fill="#2020d0"/><circle cx="899.8" cy="1062.3" r="1.8" fill="#6a6aff"/>
<circle cx="854.6" cy="1036.2" r="5.2" fill="#2020d0"/><circle cx="853.8" cy="1035.4" r="1.8" fill="#6a6aff"/>
<circle cx="854.6" cy="1063.1" r="5.2" fill="#2020d0"/><circle cx="853.8" cy="1062.3" r="1.8" fill="#6a6aff"/>
<circle cx="864.6" cy="997.8" r="2.6" fill="#fff" stroke="#999" stroke-width="1.3"/>
</g>
<rect x="852.2" y="991.6" width="59.50" height="79.80" fill="none" stroke="#666" stroke-width="1.2"/>
<clipPath id="mc7"><rect x="927.2" y="954.6" width="59.5" height="79.80000000000007"/></clipPath>
<rect x="927.2" y="954.6" width="59.50" height="79.80" fill="#fff"/>
<g clip-path="url(#mc7)">
<line x1="952.1" y1="972.6" x2="949.5" y2="968.1" stroke="#3434b8" stroke-width="2.3"/>
<line x1="949.5" y1="968.1" x2="946.9" y2="963.6" stroke="#b83030" stroke-width="2.3"/>
<line x1="952.1" y1="972.6" x2="960.8" y2="970.0" stroke="#3434b8" stroke-width="2.3"/>
<line x1="960.8" y1="970.0" x2="969.4" y2="967.4" stroke="#b83030" stroke-width="2.3"/>
<line x1="952.1" y1="972.6" x2="943.8" y2="979.0" stroke="#3434b8" stroke-width="2.3"/>
<line x1="943.8" y1="979.0" x2="935.5" y2="985.3" stroke="#2f7f3a" stroke-width="2.3"/>
<line x1="952.1" y1="972.6" x2="954.9" y2="980.7" stroke="#3434b8" stroke-width="2.3"/>
<line x1="954.9" y1="980.7" x2="957.6" y2="988.8" stroke="#b83030" stroke-width="2.3"/>
<line x1="957.6" y1="988.8" x2="962.8" y2="992.2" stroke="#b83030" stroke-width="2.3"/>
<line x1="962.8" y1="992.2" x2="968.0" y2="995.7" stroke="#3434b8" stroke-width="2.3"/>
<line x1="968.0" y1="995.7" x2="975.1" y2="989.9" stroke="#3434b8" stroke-width="2.3"/>
<line x1="975.1" y1="989.9" x2="982.2" y2="984.0" stroke="#2f7f3a" stroke-width="2.3"/>
<line x1="968.0" y1="995.7" x2="961.1" y2="1003.0" stroke="#3434b8" stroke-width="2.3"/>
<line x1="961.1" y1="1003.0" x2="954.2" y2="1010.2" stroke="#2f7f3a" stroke-width="2.3"/>
<line x1="968.0" y1="995.7" x2="969.5" y2="1009.5" stroke="#3434b8" stroke-width="2.3"/>
<line x1="969.5" y1="1009.5" x2="971.1" y2="1023.4" stroke="#3434b8" stroke-width="2.3"/>
<line x1="968.0" y1="995.7" x2="972.9" y2="1002.0" stroke="#3434b8" stroke-width="2.3"/>
<line x1="972.9" y1="1002.0" x2="977.7" y2="1008.2" stroke="#b83030" stroke-width="2.3"/>
<line x1="977.7" y1="1008.2" x2="974.4" y2="1015.8" stroke="#b83030" stroke-width="2.3"/>
<line x1="974.4" y1="1015.8" x2="971.1" y2="1023.4" stroke="#3434b8" stroke-width="2.3"/>
<line x1="971.1" y1="1023.4" x2="962.7" y2="1016.8" stroke="#3434b8" stroke-width="2.3"/>
<line x1="962.7" y1="1016.8" x2="954.2" y2="1010.2" stroke="#2f7f3a" stroke-width="2.3"/>
<line x1="971.1" y1="1023.4" x2="968.4" y2="1027.2" stroke="#3434b8" stroke-width="2.3"/>
<line x1="968.4" y1="1027.2" x2="965.6" y2="1031.0" stroke="#b83030" stroke-width="2.3"/>
<line x1="971.1" y1="1023.4" x2="977.0" y2="1025.5" stroke="#3434b8" stroke-width="2.3"/>
<line x1="977.0" y1="1025.5" x2="982.9" y2="1027.5" stroke="#2f7f3a" stroke-width="2.3"/>
<circle cx="935.5" cy="985.3" r="8.5" fill="#3ee03e" stroke="#2aa02a" stroke-width="0.8" fill-opacity="0.95"/>
<circle cx="954.2" cy="1010.2" r="8" fill="#3ee03e" stroke="#2aa02a" stroke-width="0.8" fill-opacity="0.95"/>
<circle cx="982.2" cy="984.0" r="7.5" fill="#3ee03e" stroke="#2aa02a" stroke-width="0.8" fill-opacity="0.95"/>
<circle cx="938.3" cy="1028.2" r="8" fill="#3ee03e" stroke="#2aa02a" stroke-width="0.8" fill-opacity="0.95"/>
<circle cx="982.9" cy="1027.5" r="7.5" fill="#3ee03e" stroke="#2aa02a" stroke-width="0.8" fill-opacity="0.95"/>
<circle cx="946.9" cy="963.6" r="3.4" fill="#e02020" stroke="#b01818" stroke-width="0.8"/><circle cx="946.2" cy="962.9" r="1.2" fill="#ff7a6a"/>
<circle cx="949.5" cy="964.5" r="3.2" fill="#e02020" stroke="#b01818" stroke-width="0.8"/><circle cx="948.9" cy="963.9" r="1.1" fill="#ff7a6a"/>
<circle cx="969.4" cy="967.4" r="3.2" fill="#e02020" stroke="#b01818" stroke-width="0.8"/><circle cx="968.8" cy="966.8" r="1.1" fill="#ff7a6a"/>
<circle cx="957.6" cy="988.8" r="3.4" fill="#e02020" stroke="#b01818" stroke-width="0.8"/><circle cx="956.9" cy="988.1" r="1.2" fill="#ff7a6a"/>
<circle cx="977.7" cy="1008.2" r="3.4" fill="#e02020" stroke="#b01818" stroke-width="0.8"/><circle cx="977.0" cy="1007.5" r="1.2" fill="#ff7a6a"/>
<circle cx="930.0" cy="1008.2" r="3.4" fill="#e02020" stroke="#b01818" stroke-width="0.8"/><circle cx="929.3" cy="1007.5" r="1.2" fill="#ff7a6a"/>
<circle cx="965.6" cy="1031.0" r="3.4" fill="#e02020" stroke="#b01818" stroke-width="0.8"/><circle cx="964.9" cy="1030.3" r="1.2" fill="#ff7a6a"/>
<circle cx="933.8" cy="982.6" r="2.5" fill="#e02020" stroke="#b01818" stroke-width="0.8"/><circle cx="933.3" cy="982.1" r="0.9" fill="#ff7a6a"/>
<circle cx="981.5" cy="981.9" r="2.5" fill="#e02020" stroke="#b01818" stroke-width="0.8"/><circle cx="981.0" cy="981.4" r="0.9" fill="#ff7a6a"/>
<circle cx="942.0" cy="1031.7" r="2.8" fill="#e02020" stroke="#b01818" stroke-width="0.8"/><circle cx="941.4" cy="1031.1" r="1.0" fill="#ff7a6a"/>
<circle cx="952.1" cy="972.6" r="5.2" fill="#2020d0"/><circle cx="951.3" cy="971.8" r="1.8" fill="#6a6aff"/>
<circle cx="968.0" cy="995.7" r="5.2" fill="#2020d0"/><circle cx="967.2" cy="994.9" r="1.8" fill="#6a6aff"/>
<circle cx="971.1" cy="1023.4" r="5.2" fill="#2020d0"/><circle cx="970.3" cy="1022.6" r="1.8" fill="#6a6aff"/>
</g>
<rect x="927.2" y="954.6" width="59.50" height="79.80" fill="none" stroke="#666" stroke-width="1.2"/>
<clipPath id="mc8"><rect x="1002.2" y="896.6" width="59.5" height="79.79999999999995"/></clipPath>
<rect x="1002.2" y="896.6" width="59.50" height="79.80" fill="#fff"/>
<g clip-path="url(#mc8)">
<line x1="1025.4" y1="902.1" x2="1023.0" y2="908.0" stroke="#b83030" stroke-width="2.3"/>
<line x1="1023.0" y1="908.0" x2="1020.5" y2="913.9" stroke="#b83030" stroke-width="2.3"/>
<line x1="1020.5" y1="913.9" x2="1023.8" y2="915.5" stroke="#b83030" stroke-width="2.3"/>
<line x1="1023.8" y1="915.5" x2="1027.1" y2="917.0" stroke="#b83030" stroke-width="2.3"/>
<line x1="1029.5" y1="924.9" x2="1028.3" y2="921.0" stroke="#3434b8" stroke-width="2.3"/>
<line x1="1028.3" y1="921.0" x2="1027.1" y2="917.0" stroke="#b83030" stroke-width="2.3"/>
<line x1="1029.5" y1="924.9" x2="1037.1" y2="922.0" stroke="#3434b8" stroke-width="2.3"/>
<line x1="1037.1" y1="922.0" x2="1044.7" y2="919.0" stroke="#b83030" stroke-width="2.3"/>
<line x1="1029.5" y1="924.9" x2="1020.9" y2="930.5" stroke="#3434b8" stroke-width="2.3"/>
<line x1="1020.9" y1="930.5" x2="1012.2" y2="936.0" stroke="#2f7f3a" stroke-width="2.3"/>
<line x1="1029.5" y1="924.9" x2="1031.2" y2="931.6" stroke="#3434b8" stroke-width="2.3"/>
<line x1="1031.2" y1="931.6" x2="1033.0" y2="938.4" stroke="#b83030" stroke-width="2.3"/>
<line x1="1036.4" y1="939.1" x2="1039.0" y2="942.2" stroke="#b83030" stroke-width="2.3"/>
<line x1="1039.0" y1="942.2" x2="1041.6" y2="945.3" stroke="#3434b8" stroke-width="2.3"/>
<line x1="1041.6" y1="945.3" x2="1047.3" y2="940.6" stroke="#3434b8" stroke-width="2.3"/>
<line x1="1047.3" y1="940.6" x2="1053.0" y2="936.0" stroke="#2f7f3a" stroke-width="2.3"/>
<line x1="1041.6" y1="945.3" x2="1036.6" y2="951.9" stroke="#3434b8" stroke-width="2.3"/>
<line x1="1036.6" y1="951.9" x2="1031.6" y2="958.5" stroke="#2f7f3a" stroke-width="2.3"/>
<line x1="1041.6" y1="945.3" x2="1043.2" y2="958.0" stroke="#3434b8" stroke-width="2.3"/>
<line x1="1043.2" y1="958.0" x2="1044.7" y2="970.6" stroke="#3434b8" stroke-width="2.3"/>
<line x1="1041.6" y1="945.3" x2="1046.1" y2="950.8" stroke="#3434b8" stroke-width="2.3"/>
<line x1="1046.1" y1="950.8" x2="1050.6" y2="956.4" stroke="#b83030" stroke-width="2.3"/>
<line x1="1050.6" y1="956.4" x2="1047.7" y2="963.5" stroke="#b83030" stroke-width="2.3"/>
<line x1="1047.7" y1="963.5" x2="1044.7" y2="970.6" stroke="#3434b8" stroke-width="2.3"/>
<line x1="1044.7" y1="970.6" x2="1038.2" y2="964.5" stroke="#3434b8" stroke-width="2.3"/>
<line x1="1038.2" y1="964.5" x2="1031.6" y2="958.5" stroke="#2f7f3a" stroke-width="2.3"/>
<line x1="1044.7" y1="970.6" x2="1050.6" y2="971.8" stroke="#3434b8" stroke-width="2.3"/>
<line x1="1050.6" y1="971.8" x2="1056.5" y2="973.0" stroke="#2f7f3a" stroke-width="2.3"/>
<line x1="1003.9" y1="945.3" x2="1008.0" y2="940.6" stroke="#3434b8" stroke-width="2.3"/>
<line x1="1008.0" y1="940.6" x2="1012.2" y2="936.0" stroke="#2f7f3a" stroke-width="2.3"/>
<line x1="1003.9" y1="945.3" x2="1007.0" y2="950.8" stroke="#3434b8" stroke-width="2.3"/>
<line x1="1007.0" y1="950.8" x2="1010.1" y2="956.4" stroke="#b83030" stroke-width="2.3"/>
<line x1="1010.1" y1="956.4" x2="1007.5" y2="963.5" stroke="#b83030" stroke-width="2.3"/>
<line x1="1007.5" y1="963.5" x2="1005.0" y2="970.6" stroke="#3434b8" stroke-width="2.3"/>
<line x1="1005.0" y1="970.6" x2="1010.4" y2="971.8" stroke="#3434b8" stroke-width="2.3"/>
<line x1="1010.4" y1="971.8" x2="1015.7" y2="973.0" stroke="#2f7f3a" stroke-width="2.3"/>
<circle cx="1012.2" cy="936.0" r="8" fill="#3ee03e" stroke="#2aa02a" stroke-width="0.8" fill-opacity="0.95"/>
<circle cx="1053.0" cy="936.0" r="8" fill="#3ee03e" stroke="#2aa02a" stroke-width="0.8" fill-opacity="0.95"/>
<circle cx="1031.6" cy="958.5" r="8" fill="#3ee03e" stroke="#2aa02a" stroke-width="0.8" fill-opacity="0.95"/>
<circle cx="1015.7" cy="973.0" r="7.5" fill="#3ee03e" stroke="#2aa02a" stroke-width="0.8" fill-opacity="0.95"/>
<circle cx="1056.5" cy="973.0" r="7.5" fill="#3ee03e" stroke="#2aa02a" stroke-width="0.8" fill-opacity="0.95"/>
<circle cx="1025.4" cy="902.1" r="3.2" fill="#e02020" stroke="#b01818" stroke-width="0.8"/><circle cx="1024.8" cy="901.5" r="1.1" fill="#ff7a6a"/>
<circle cx="1020.5" cy="913.9" r="3.2" fill="#e02020" stroke="#b01818" stroke-width="0.8"/><circle cx="1019.9" cy="913.3" r="1.1" fill="#ff7a6a"/>
<circle cx="1027.1" cy="917.0" r="3.2" fill="#e02020" stroke="#b01818" stroke-width="0.8"/><circle cx="1026.5" cy="916.4" r="1.1" fill="#ff7a6a"/>
<circle cx="1044.7" cy="919.0" r="3.2" fill="#e02020" stroke="#b01818" stroke-width="0.8"/><circle cx="1044.1" cy="918.4" r="1.1" fill="#ff7a6a"/>
<circle cx="1004.3" cy="919.0" r="3.2" fill="#e02020" stroke="#b01818" stroke-width="0.8"/><circle cx="1003.7" cy="918.4" r="1.1" fill="#ff7a6a"/>
<circle cx="1033.0" cy="938.4" r="3.2" fill="#e02020" stroke="#b01818" stroke-width="0.8"/><circle cx="1032.4" cy="937.8" r="1.1" fill="#ff7a6a"/>
<circle cx="1036.4" cy="939.1" r="3.2" fill="#e02020" stroke="#b01818" stroke-width="0.8"/><circle cx="1035.8" cy="938.5" r="1.1" fill="#ff7a6a"/>
<circle cx="1050.6" cy="956.4" r="3.2" fill="#e02020" stroke="#b01818" stroke-width="0.8"/><circle cx="1050.0" cy="955.8" r="1.1" fill="#ff7a6a"/>
<circle cx="1010.1" cy="956.4" r="3.2" fill="#e02020" stroke="#b01818" stroke-width="0.8"/><circle cx="1009.5" cy="955.8" r="1.1" fill="#ff7a6a"/>
<circle cx="1060.3" cy="914.6" r="3" fill="#e02020" stroke="#b01818" stroke-width="0.8"/><circle cx="1059.7" cy="914.0" r="1.0" fill="#ff7a6a"/>
<circle cx="1029.5" cy="924.9" r="5.2" fill="#2020d0"/><circle cx="1028.7" cy="924.1" r="1.8" fill="#6a6aff"/>
<circle cx="1041.6" cy="945.3" r="5.2" fill="#2020d0"/><circle cx="1040.8" cy="944.5" r="1.8" fill="#6a6aff"/>
<circle cx="1044.7" cy="970.6" r="5.2" fill="#2020d0"/><circle cx="1043.9" cy="969.8" r="1.8" fill="#6a6aff"/>
<circle cx="1003.9" cy="945.3" r="5.2" fill="#2020d0"/><circle cx="1003.1" cy="944.5" r="1.8" fill="#6a6aff"/>
<circle cx="1005.0" cy="970.6" r="5.2" fill="#2020d0"/><circle cx="1004.2" cy="969.8" r="1.8" fill="#6a6aff"/>
</g>
<rect x="1002.2" y="896.6" width="59.50" height="79.80" fill="none" stroke="#666" stroke-width="1.2"/>
<path d="M784.9,1127.2 L855.3,1127.2 L855.3,1169.6 L926.1,1169.6 L926.1,1184.2 L1068.3,1184.2 L1068.3,1197.2 L1138.7,1197.2" stroke="#000" stroke-width="2.6" fill="none" />
<path d="M855.3,1127.2 L855.3,1115.5 L926.4,1115.5 L926.4,1073.6 L996.3,1073.6 L996.3,1018.1 L1067.2,1018.1 L1067.2,975.6 L1139,975.6" stroke="#e31b1b" stroke-width="2.7" fill="none" />
<text transform="translate(770.45,910.65) scale(0.9362,1)" font-family='"Liberation Serif", serif' font-size="34.58" font-weight="bold" font-style="italic" fill="#000">η</text>
<text transform="translate(793.60,912.30) scale(1.1765,1)" font-family='"Liberation Serif", serif' font-size="34.00" font-weight="bold" font-style="normal" fill="#000">=</text>
<text transform="translate(822.78,911.60) scale(0.9792,1)" font-family='"Liberation Serif", serif' font-size="33.24" font-weight="bold" font-style="normal" fill="#000">0.57 V</text>
<text transform="translate(795.11,1115.23) scale(1.0853,1)" font-family='"Liberation Serif", serif' font-size="26.67" font-weight="bold" font-style="normal" fill="#000">0</text>
<text transform="translate(754.40,1155.10) scale(1.1878,1)" font-family='"Liberation Serif", serif' font-size="25.66" font-weight="bold" font-style="normal" fill="#000">*+2H</text>
<text transform="translate(825.83,1161.70) scale(0.7911,1)" font-family='"Liberation Serif", serif' font-size="17.06" font-weight="bold" font-style="normal" fill="#000">2</text>
<text transform="translate(832.01,1155.04) scale(0.8135,1)" font-family='"Liberation Serif", serif' font-size="25.58" font-weight="bold" font-style="normal" fill="#000">O</text>
<text transform="translate(865.72,1146.33) scale(1.0095,1)" font-family='"Liberation Serif", serif' font-size="26.62" font-weight="bold" font-style="normal" fill="#000">OH*</text>
<text transform="translate(863.17,1104.72) scale(1.1016,1)" font-family='"Liberation Serif", serif' font-size="25.00" font-weight="bold" font-style="normal" fill="#000">0.39</text>
<text transform="translate(936.51,1063.22) scale(1.0885,1)" font-family='"Liberation Serif", serif' font-size="25.19" font-weight="bold" font-style="normal" fill="#000">1.74</text>
<text transform="translate(951.52,1100.16) scale(1.1291,1)" font-family='"Liberation Serif", serif' font-size="23.94" font-weight="bold" font-style="normal" fill="#000">O*</text>
<text transform="translate(1004.17,1005.01) scale(1.0621,1)" font-family='"Liberation Serif", serif' font-size="25.83" font-weight="bold" font-style="normal" fill="#000">3.54</text>
<text transform="translate(1007.31,1052.05) scale(1.0795,1)" font-family='"Liberation Serif", serif' font-size="25.13" font-weight="bold" font-style="normal" fill="#000">OOH*</text>
<text transform="translate(1078.47,958.31) scale(1.0291,1)" font-family='"Liberation Serif", serif' font-size="25.68" font-weight="bold" font-style="normal" fill="#000">4.92</text>
<text transform="translate(1093.38,1006.63) scale(1.0401,1)" font-family='"Liberation Serif", serif' font-size="26.77" font-weight="bold" font-style="normal" fill="#000">O</text>
<text transform="translate(1113.94,1012.20) scale(1.0097,1)" font-family='"Liberation Serif", serif' font-size="17.66" font-weight="bold" font-style="normal" fill="#000">2</text>
<text transform="translate(853.08,1192.92) scale(1.0675,1)" font-family='"Liberation Serif", serif' font-size="25.48" font-weight="bold" font-style="normal" fill="#000">-1.41</text>
<text transform="translate(926.76,1208.19) scale(1.0234,1)" font-family='"Liberation Serif", serif' font-size="27.21" font-weight="bold" font-style="normal" fill="#000">-1.86</text>
<text transform="translate(994.87,1208.19) scale(1.0069,1)" font-family='"Liberation Serif", serif' font-size="27.21" font-weight="bold" font-style="normal" fill="#000">-1.86</text>
<text transform="translate(1067.97,1221.09) scale(1.0064,1)" font-family='"Liberation Serif", serif' font-size="27.21" font-weight="bold" font-style="normal" fill="#000">-2.28</text>
<text transform="translate(1157.50,982.39) scale(1.3141,1)" font-family='"Liberation Sans", sans-serif' font-size="21.22" font-weight="bold" font-style="italic" fill="#e31b1b">U</text>
<text transform="translate(1178.39,982.50) scale(0.8962,1)" font-family='"Liberation Sans", sans-serif' font-size="21.20" font-weight="bold" font-style="normal" fill="#e31b1b">=</text>
<text transform="translate(1193.01,982.39) scale(1.1828,1)" font-family='"Liberation Sans", sans-serif' font-size="20.92" font-weight="bold" font-style="normal" fill="#e31b1b">0 V</text>
<text transform="translate(1153.40,1204.08) scale(1.2795,1)" font-family='"Liberation Sans", sans-serif' font-size="21.79" font-weight="bold" font-style="italic" fill="#000">U</text>
<text transform="translate(1174.29,1204.20) scale(0.8716,1)" font-family='"Liberation Sans", sans-serif' font-size="21.80" font-weight="bold" font-style="normal" fill="#000">=</text>
<text transform="translate(1188.44,1204.09) scale(1.1610,1)" font-family='"Liberation Sans", sans-serif' font-size="21.48" font-weight="bold" font-style="normal" fill="#000">1.80 V</text>
</svg>
</body></html>
